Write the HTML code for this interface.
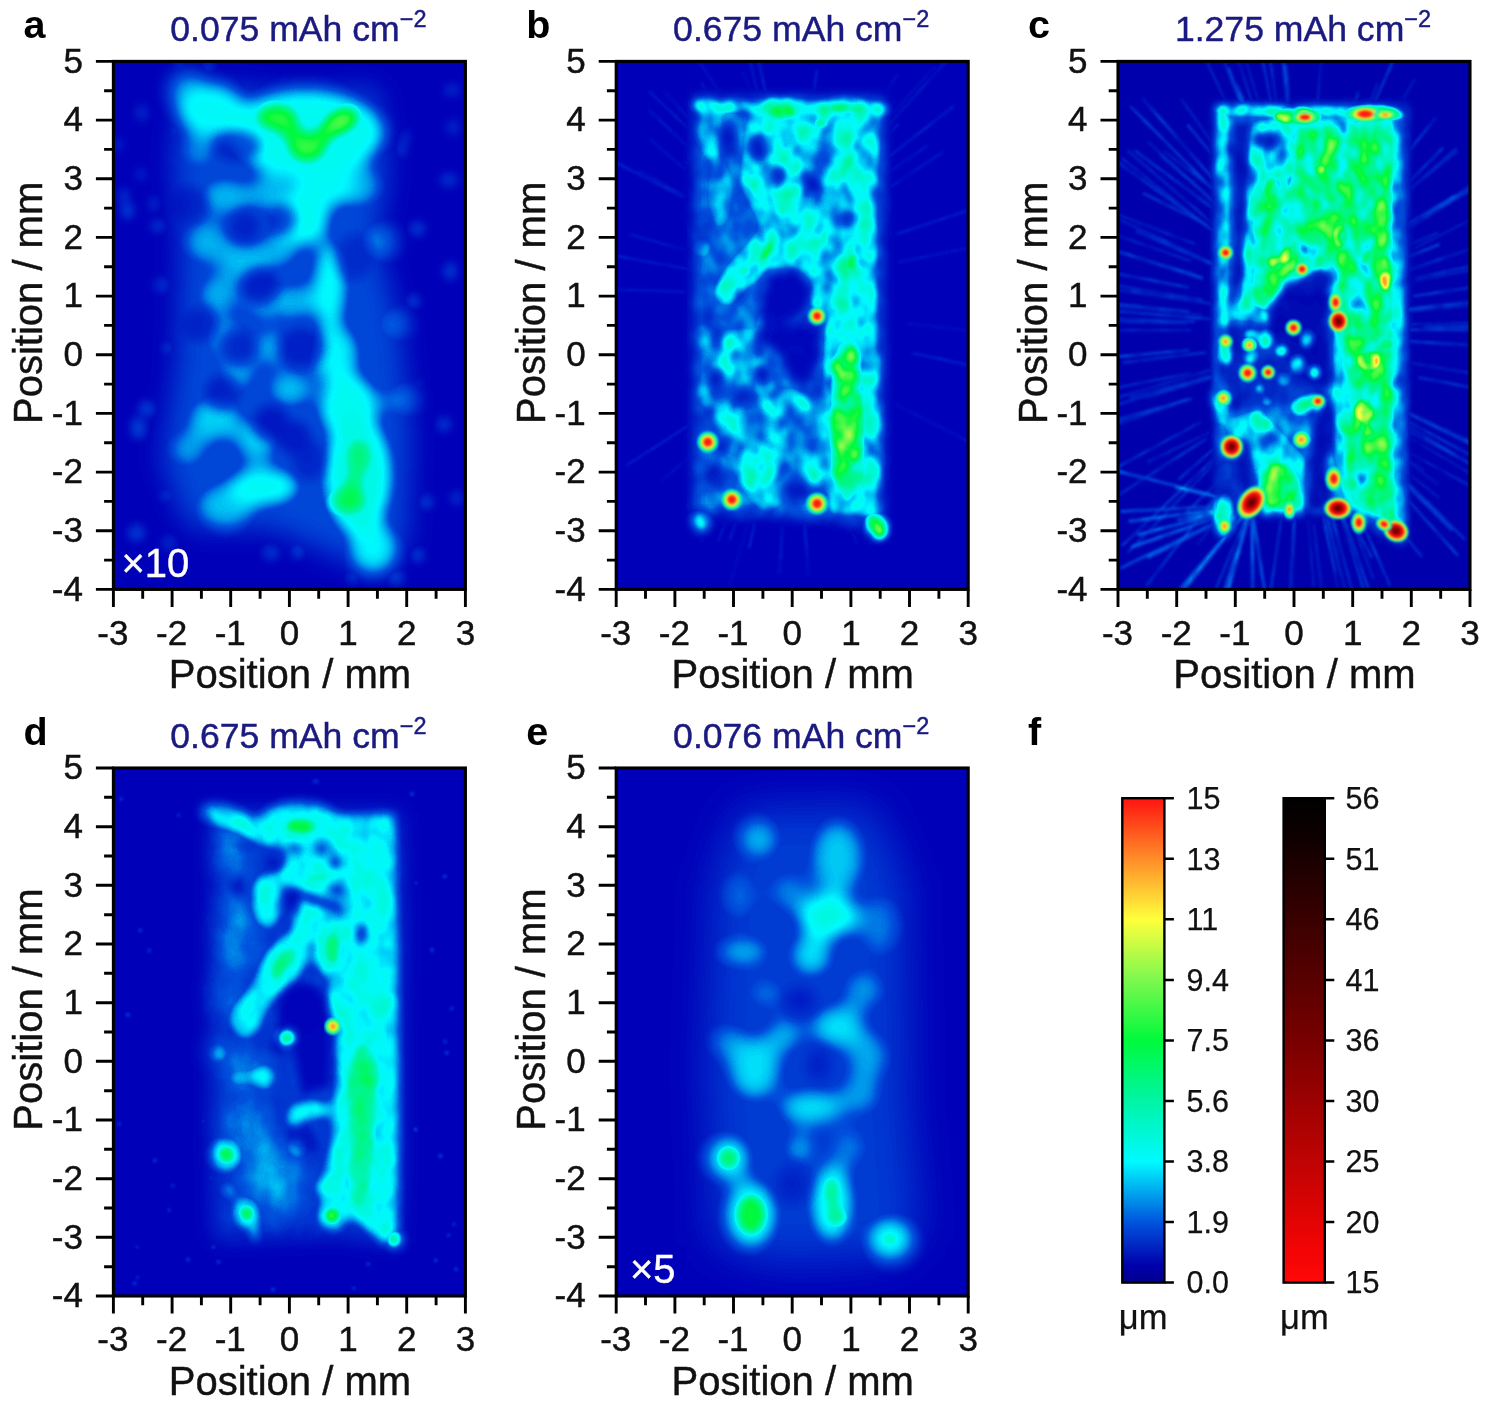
<!DOCTYPE html>
<html lang="en"><head><meta charset="utf-8"><title>Thickness maps</title>
<style>
html,body{margin:0;padding:0;background:#fff;}
svg{display:block;}
text{font-family:"Liberation Sans", sans-serif;fill:#111;}
.tk,.al,.cb{stroke:#111;stroke-width:0.45px;}
.tt{stroke:#1a1a80;stroke-width:0.45px;}
.mul{stroke:#fff;stroke-width:0.4px;}
.tk{font-size:35px;}
.al{font-size:40px;}
.tt{font-size:35.6px;fill:#1a1a80;}
.pl{font-size:39.5px;font-weight:bold;fill:#000;}
.cb{font-size:30.5px;stroke-width:0.25px;}
.mul{font-size:40px;fill:#fff;}
</style></head>
<body>
<svg width="1488" height="1407" viewBox="0 0 1488 1407">
<defs>
<filter id="cmap" x="0" y="0" width="100%" height="100%" color-interpolation-filters="sRGB" filterUnits="objectBoundingBox"><feComponentTransfer><feFuncR type="table" tableValues="0.000 0.000 0.000 0.000 0.000 0.490 1.000 1.000 1.000 0.843 0.588 0.373 0.176"/><feFuncG type="table" tableValues="0.000 0.329 0.980 0.961 0.980 0.973 1.000 0.549 0.078 0.000 0.000 0.000 0.000"/><feFuncB type="table" tableValues="0.722 0.871 1.000 0.647 0.235 0.306 0.235 0.157 0.063 0.000 0.000 0.000 0.000"/></feComponentTransfer></filter>
<filter id="cmap_b" x="0" y="0" width="100%" height="100%" color-interpolation-filters="sRGB" filterUnits="objectBoundingBox"><feTurbulence type="fractalNoise" baseFrequency="0.05 0.04" numOctaves="2" seed="21" result="n"/><feColorMatrix in="n" type="matrix" values="0.7 0 0 0 0.15000000000000002  0.7 0 0 0 0.15000000000000002  0.7 0 0 0 0.15000000000000002  0 0 0 0 1" result="g"/><feComposite in="SourceGraphic" in2="g" operator="arithmetic" k1="2" k2="0" k3="0" k4="0" result="m"/><feComponentTransfer in="m"><feFuncR type="table" tableValues="0.000 0.000 0.000 0.000 0.000 0.490 1.000 1.000 1.000 0.843 0.588 0.373 0.176"/><feFuncG type="table" tableValues="0.000 0.329 0.980 0.961 0.980 0.973 1.000 0.549 0.078 0.000 0.000 0.000 0.000"/><feFuncB type="table" tableValues="0.722 0.871 1.000 0.647 0.235 0.306 0.235 0.157 0.063 0.000 0.000 0.000 0.000"/></feComponentTransfer></filter>
<filter id="cmap_c" x="0" y="0" width="100%" height="100%" color-interpolation-filters="sRGB" filterUnits="objectBoundingBox"><feTurbulence type="fractalNoise" baseFrequency="0.055 0.04" numOctaves="2" seed="5" result="n"/><feColorMatrix in="n" type="matrix" values="0.8 0 0 0 0.09999999999999998  0.8 0 0 0 0.09999999999999998  0.8 0 0 0 0.09999999999999998  0 0 0 0 1" result="g"/><feComposite in="SourceGraphic" in2="g" operator="arithmetic" k1="2" k2="0" k3="0" k4="0" result="m"/><feComponentTransfer in="m"><feFuncR type="table" tableValues="0.000 0.000 0.000 0.000 0.000 0.490 1.000 1.000 1.000 0.843 0.588 0.373 0.176"/><feFuncG type="table" tableValues="0.000 0.329 0.980 0.961 0.980 0.973 1.000 0.549 0.078 0.000 0.000 0.000 0.000"/><feFuncB type="table" tableValues="0.682 0.871 1.000 0.647 0.235 0.306 0.235 0.157 0.063 0.000 0.000 0.000 0.000"/></feComponentTransfer></filter>
<filter id="cmap_d" x="0" y="0" width="100%" height="100%" color-interpolation-filters="sRGB" filterUnits="objectBoundingBox"><feTurbulence type="fractalNoise" baseFrequency="0.05 0.04" numOctaves="2" seed="9" result="n"/><feColorMatrix in="n" type="matrix" values="0.25 0 0 0 0.375  0.25 0 0 0 0.375  0.25 0 0 0 0.375  0 0 0 0 1" result="g"/><feComposite in="SourceGraphic" in2="g" operator="arithmetic" k1="2" k2="0" k3="0" k4="0" result="m"/><feComponentTransfer in="m"><feFuncR type="table" tableValues="0.000 0.000 0.000 0.000 0.000 0.490 1.000 1.000 1.000 0.843 0.588 0.373 0.176"/><feFuncG type="table" tableValues="0.000 0.329 0.980 0.961 0.980 0.973 1.000 0.549 0.078 0.000 0.000 0.000 0.000"/><feFuncB type="table" tableValues="0.722 0.871 1.000 0.647 0.235 0.306 0.235 0.157 0.063 0.000 0.000 0.000 0.000"/></feComponentTransfer></filter>
<filter id="b1" x="0" y="0" width="100%" height="100%" color-interpolation-filters="sRGB"><feGaussianBlur stdDeviation="1"/></filter>
<filter id="b1_5" x="0" y="0" width="100%" height="100%" color-interpolation-filters="sRGB"><feGaussianBlur stdDeviation="1.5"/></filter>
<filter id="b3" x="0" y="0" width="100%" height="100%" color-interpolation-filters="sRGB"><feGaussianBlur stdDeviation="3"/></filter>
<filter id="b4" x="0" y="0" width="100%" height="100%" color-interpolation-filters="sRGB"><feGaussianBlur stdDeviation="4"/></filter>
<filter id="b5" x="0" y="0" width="100%" height="100%" color-interpolation-filters="sRGB"><feGaussianBlur stdDeviation="5"/></filter>
<filter id="b6" x="0" y="0" width="100%" height="100%" color-interpolation-filters="sRGB"><feGaussianBlur stdDeviation="6"/></filter>
<filter id="b8" x="0" y="0" width="100%" height="100%" color-interpolation-filters="sRGB"><feGaussianBlur stdDeviation="8"/></filter>
<filter id="b9" x="0" y="0" width="100%" height="100%" color-interpolation-filters="sRGB"><feGaussianBlur stdDeviation="9"/></filter>
<filter id="b10" x="0" y="0" width="100%" height="100%" color-interpolation-filters="sRGB"><feGaussianBlur stdDeviation="10"/></filter>
<filter id="b11" x="0" y="0" width="100%" height="100%" color-interpolation-filters="sRGB"><feGaussianBlur stdDeviation="11"/></filter>
<filter id="b14" x="0" y="0" width="100%" height="100%" color-interpolation-filters="sRGB"><feGaussianBlur stdDeviation="14"/></filter>
<filter id="b22" x="0" y="0" width="100%" height="100%" color-interpolation-filters="sRGB"><feGaussianBlur stdDeviation="22"/></filter>
<linearGradient id="cb1" x1="0" y1="1" x2="0" y2="0"><stop offset="0" stop-color="rgb(0,0,140)"/><stop offset="0.035" stop-color="rgb(0,0,172)"/><stop offset="0.1250" stop-color="rgb(0,84,222)"/><stop offset="0.2500" stop-color="rgb(0,250,255)"/><stop offset="0.3750" stop-color="rgb(0,245,165)"/><stop offset="0.5000" stop-color="rgb(0,250,60)"/><stop offset="0.6250" stop-color="rgb(125,248,78)"/><stop offset="0.7500" stop-color="rgb(255,255,60)"/><stop offset="0.8750" stop-color="rgb(255,140,40)"/><stop offset="1.0000" stop-color="rgb(255,20,16)"/></linearGradient>
<linearGradient id="cb2" x1="0" y1="1" x2="0" y2="0"><stop offset="0" stop-color="rgb(255,8,8)"/><stop offset="0.08" stop-color="rgb(240,4,4)"/><stop offset="0.5" stop-color="rgb(120,0,0)"/><stop offset="0.93" stop-color="rgb(12,0,0)"/><stop offset="1" stop-color="rgb(0,0,0)"/></linearGradient>
<radialGradient id="hot"><stop offset="0" stop-color="rgb(255,20,16)"/><stop offset="0.26" stop-color="rgb(255,30,16)"/><stop offset="0.42" stop-color="rgb(255,150,40)"/><stop offset="0.54" stop-color="rgb(250,250,60)"/><stop offset="0.68" stop-color="rgb(80,250,70)"/><stop offset="0.82" stop-color="rgb(0,248,190)"/><stop offset="0.92" stop-color="rgb(0,245,255)" stop-opacity="0.8"/><stop offset="1" stop-color="rgb(0,200,255)" stop-opacity="0"/></radialGradient>
<radialGradient id="hot2"><stop offset="0" stop-color="rgb(70,0,0)"/><stop offset="0.25" stop-color="rgb(150,0,0)"/><stop offset="0.45" stop-color="rgb(235,8,8)"/><stop offset="0.58" stop-color="rgb(255,40,20)"/><stop offset="0.68" stop-color="rgb(255,190,50)"/><stop offset="0.76" stop-color="rgb(230,250,60)"/><stop offset="0.85" stop-color="rgb(60,250,80)"/><stop offset="0.93" stop-color="rgb(0,245,230)" stop-opacity="0.85"/><stop offset="1" stop-color="rgb(0,200,255)" stop-opacity="0"/></radialGradient>
<radialGradient id="hot0"><stop offset="0" stop-color="rgb(255,120,30)"/><stop offset="0.2" stop-color="rgb(255,170,40)"/><stop offset="0.42" stop-color="rgb(245,250,60)"/><stop offset="0.64" stop-color="rgb(80,250,70)"/><stop offset="0.82" stop-color="rgb(0,248,200)"/><stop offset="0.92" stop-color="rgb(0,245,255)" stop-opacity="0.8"/><stop offset="1" stop-color="rgb(0,200,255)" stop-opacity="0"/></radialGradient>
<filter id="soft" x="0" y="0" width="100%" height="100%" filterUnits="userSpaceOnUse" color-interpolation-filters="sRGB"><feGaussianBlur stdDeviation="0.6"/></filter>
</defs>
<g filter="url(#soft)">
<rect width="1488" height="1407" fill="#fff"/>
<!-- panel a -->
<svg x="113.4" y="61.4" width="352" height="528" viewBox="0 0 352 528" overflow="hidden">
<g filter="url(#cmap)">
<rect x="-60" y="-60" width="472" height="648" fill="rgb(0,0,0)"/>
<g filter="url(#b14)" style="mix-blend-mode:lighten">
<rect x="-60" y="-60" width="472" height="648" fill="#000"/>
<polygon points="71.2,22.2 195.5,33.5 263.4,26 274.7,112.6 263.4,180.5 286,263.4 297.3,376.4 293.5,481.9 263.4,512 210.6,489.4 157.9,466.8 75,466.8 48.6,399 63.7,301 67.4,188 59.9,93.8" fill="rgb(18,18,18)" style="mix-blend-mode:lighten"/>
</g>
<g filter="url(#b5)" style="mix-blend-mode:lighten">
<rect x="-60" y="-60" width="472" height="648" fill="#000"/>
<ellipse cx="115.4" cy="82.9" rx="7.6" ry="5.3" fill="rgb(13,13,13)" style="mix-blend-mode:lighten"/>
<ellipse cx="129.7" cy="34.7" rx="7" ry="5.1" fill="rgb(13,13,13)" style="mix-blend-mode:lighten"/>
<ellipse cx="28.5" cy="51.7" rx="6.7" ry="8.3" fill="rgb(10,10,10)" style="mix-blend-mode:lighten"/>
<ellipse cx="80.9" cy="330.2" rx="8.8" ry="7.3" fill="rgb(12,12,12)" style="mix-blend-mode:lighten"/>
<ellipse cx="338.5" cy="28.8" rx="8.4" ry="6.2" fill="rgb(10,10,10)" style="mix-blend-mode:lighten"/>
<ellipse cx="44.9" cy="164.7" rx="8.3" ry="5.7" fill="rgb(14,14,14)" style="mix-blend-mode:lighten"/>
<ellipse cx="223.1" cy="197.9" rx="7.2" ry="5.3" fill="rgb(10,10,10)" style="mix-blend-mode:lighten"/>
<ellipse cx="75" cy="357.7" rx="6.7" ry="6.3" fill="rgb(14,14,14)" style="mix-blend-mode:lighten"/>
<ellipse cx="159.6" cy="160.2" rx="8.2" ry="7.8" fill="rgb(11,11,11)" style="mix-blend-mode:lighten"/>
<ellipse cx="201.1" cy="277.2" rx="8.5" ry="7.9" fill="rgb(11,11,11)" style="mix-blend-mode:lighten"/>
<ellipse cx="339.8" cy="65.9" rx="6.7" ry="8" fill="rgb(10,10,10)" style="mix-blend-mode:lighten"/>
<ellipse cx="171.8" cy="24.9" rx="7.7" ry="8.1" fill="rgb(14,14,14)" style="mix-blend-mode:lighten"/>
<ellipse cx="304" cy="167.4" rx="7.8" ry="7.4" fill="rgb(14,14,14)" style="mix-blend-mode:lighten"/>
<ellipse cx="160.6" cy="440.5" rx="8.8" ry="6.9" fill="rgb(14,14,14)" style="mix-blend-mode:lighten"/>
<ellipse cx="25.3" cy="368.7" rx="7.6" ry="9" fill="rgb(16,16,16)" style="mix-blend-mode:lighten"/>
<ellipse cx="101.9" cy="204.8" rx="7.7" ry="5.1" fill="rgb(13,13,13)" style="mix-blend-mode:lighten"/>
<ellipse cx="62.1" cy="65.4" rx="5.2" ry="8.1" fill="rgb(10,10,10)" style="mix-blend-mode:lighten"/>
<ellipse cx="89.3" cy="207.5" rx="8.5" ry="5.3" fill="rgb(13,13,13)" style="mix-blend-mode:lighten"/>
<ellipse cx="192.5" cy="463.1" rx="8.3" ry="8.5" fill="rgb(11,11,11)" style="mix-blend-mode:lighten"/>
<ellipse cx="146.6" cy="190.8" rx="8.5" ry="8.8" fill="rgb(10,10,10)" style="mix-blend-mode:lighten"/>
<ellipse cx="64.9" cy="125" rx="5.9" ry="6.9" fill="rgb(14,14,14)" style="mix-blend-mode:lighten"/>
<ellipse cx="94.5" cy="6.7" rx="6.7" ry="6.5" fill="rgb(14,14,14)" style="mix-blend-mode:lighten"/>
<ellipse cx="330.6" cy="363" rx="7.1" ry="7.5" fill="rgb(14,14,14)" style="mix-blend-mode:lighten"/>
<ellipse cx="23.1" cy="471.5" rx="8.1" ry="8.5" fill="rgb(15,15,15)" style="mix-blend-mode:lighten"/>
<ellipse cx="138.8" cy="211.7" rx="5.4" ry="7.5" fill="rgb(10,10,10)" style="mix-blend-mode:lighten"/>
<ellipse cx="27.6" cy="112.9" rx="5.6" ry="6.4" fill="rgb(9,9,9)" style="mix-blend-mode:lighten"/>
<ellipse cx="4.7" cy="83.1" rx="5.4" ry="6.5" fill="rgb(9,9,9)" style="mix-blend-mode:lighten"/>
<ellipse cx="303.6" cy="323.3" rx="5.6" ry="6" fill="rgb(12,12,12)" style="mix-blend-mode:lighten"/>
<ellipse cx="129.1" cy="68.4" rx="8.4" ry="9" fill="rgb(13,13,13)" style="mix-blend-mode:lighten"/>
<ellipse cx="170.1" cy="49.2" rx="5.4" ry="6.4" fill="rgb(11,11,11)" style="mix-blend-mode:lighten"/>
<ellipse cx="288.1" cy="88.4" rx="5.1" ry="8.8" fill="rgb(13,13,13)" style="mix-blend-mode:lighten"/>
<ellipse cx="54.7" cy="286.5" rx="5.1" ry="7.1" fill="rgb(17,17,17)" style="mix-blend-mode:lighten"/>
<ellipse cx="299.9" cy="365.9" rx="6" ry="6.5" fill="rgb(10,10,10)" style="mix-blend-mode:lighten"/>
<ellipse cx="268.6" cy="281" rx="8.1" ry="6.3" fill="rgb(11,11,11)" style="mix-blend-mode:lighten"/>
<ellipse cx="282.1" cy="515.8" rx="8.4" ry="8.2" fill="rgb(16,16,16)" style="mix-blend-mode:lighten"/>
<ellipse cx="257.6" cy="122.3" rx="7.1" ry="6.4" fill="rgb(9,9,9)" style="mix-blend-mode:lighten"/>
<ellipse cx="14.2" cy="149.6" rx="6" ry="7.8" fill="rgb(17,17,17)" style="mix-blend-mode:lighten"/>
<ellipse cx="157.6" cy="490.9" rx="9" ry="8.8" fill="rgb(12,12,12)" style="mix-blend-mode:lighten"/>
<ellipse cx="80" cy="122.3" rx="5.8" ry="5.8" fill="rgb(14,14,14)" style="mix-blend-mode:lighten"/>
<ellipse cx="312.5" cy="440.8" rx="6.9" ry="7.6" fill="rgb(15,15,15)" style="mix-blend-mode:lighten"/>
<ellipse cx="33.6" cy="347.4" rx="8.6" ry="8.1" fill="rgb(15,15,15)" style="mix-blend-mode:lighten"/>
<ellipse cx="168.1" cy="97.3" rx="8.2" ry="6.3" fill="rgb(15,15,15)" style="mix-blend-mode:lighten"/>
<ellipse cx="336.9" cy="210" rx="6.6" ry="8.8" fill="rgb(15,15,15)" style="mix-blend-mode:lighten"/>
<ellipse cx="62.7" cy="70.5" rx="5.6" ry="8.6" fill="rgb(15,15,15)" style="mix-blend-mode:lighten"/>
<ellipse cx="54.6" cy="433.6" rx="8.9" ry="7.6" fill="rgb(12,12,12)" style="mix-blend-mode:lighten"/>
<ellipse cx="192.2" cy="72.6" rx="5.1" ry="8.9" fill="rgb(14,14,14)" style="mix-blend-mode:lighten"/>
<ellipse cx="184.7" cy="489.2" rx="6.7" ry="8.5" fill="rgb(16,16,16)" style="mix-blend-mode:lighten"/>
<ellipse cx="76.8" cy="135.3" rx="6.2" ry="6" fill="rgb(14,14,14)" style="mix-blend-mode:lighten"/>
<ellipse cx="93.3" cy="222.1" rx="5.5" ry="8.6" fill="rgb(12,12,12)" style="mix-blend-mode:lighten"/>
<ellipse cx="161.3" cy="307.4" rx="8.6" ry="6.7" fill="rgb(16,16,16)" style="mix-blend-mode:lighten"/>
<ellipse cx="176.2" cy="280.6" rx="7.1" ry="5.1" fill="rgb(13,13,13)" style="mix-blend-mode:lighten"/>
<ellipse cx="67.2" cy="6.6" rx="8.2" ry="5.7" fill="rgb(13,13,13)" style="mix-blend-mode:lighten"/>
<ellipse cx="252.6" cy="293.4" rx="6.3" ry="7.1" fill="rgb(13,13,13)" style="mix-blend-mode:lighten"/>
<ellipse cx="272.8" cy="59.7" rx="7.2" ry="6" fill="rgb(11,11,11)" style="mix-blend-mode:lighten"/>
<ellipse cx="268.7" cy="268.1" rx="7.2" ry="8" fill="rgb(16,16,16)" style="mix-blend-mode:lighten"/>
<ellipse cx="156.2" cy="322.5" rx="7" ry="7" fill="rgb(15,15,15)" style="mix-blend-mode:lighten"/>
<ellipse cx="159.3" cy="281.4" rx="6.9" ry="8.8" fill="rgb(15,15,15)" style="mix-blend-mode:lighten"/>
<ellipse cx="304.4" cy="493.6" rx="6" ry="7.2" fill="rgb(17,17,17)" style="mix-blend-mode:lighten"/>
<ellipse cx="291.9" cy="75.8" rx="5.5" ry="6.8" fill="rgb(10,10,10)" style="mix-blend-mode:lighten"/>
<ellipse cx="86.9" cy="42.5" rx="7.7" ry="8.1" fill="rgb(16,16,16)" style="mix-blend-mode:lighten"/>
<ellipse cx="57.4" cy="376.3" rx="7.6" ry="5.6" fill="rgb(16,16,16)" style="mix-blend-mode:lighten"/>
<ellipse cx="335.5" cy="118.6" rx="8.8" ry="6.6" fill="rgb(13,13,13)" style="mix-blend-mode:lighten"/>
<ellipse cx="343.1" cy="436.6" rx="5.6" ry="6.7" fill="rgb(13,13,13)" style="mix-blend-mode:lighten"/>
<ellipse cx="120.6" cy="106.2" rx="6.3" ry="7.9" fill="rgb(9,9,9)" style="mix-blend-mode:lighten"/>
<ellipse cx="194.1" cy="233.2" rx="5.1" ry="6.3" fill="rgb(14,14,14)" style="mix-blend-mode:lighten"/>
<ellipse cx="179.8" cy="38" rx="8.9" ry="8.2" fill="rgb(17,17,17)" style="mix-blend-mode:lighten"/>
<ellipse cx="40.4" cy="142.4" rx="5.2" ry="8.1" fill="rgb(11,11,11)" style="mix-blend-mode:lighten"/>
<ellipse cx="48.9" cy="223.7" rx="8.6" ry="8.3" fill="rgb(11,11,11)" style="mix-blend-mode:lighten"/>
<ellipse cx="55.7" cy="481.7" rx="7.3" ry="7.8" fill="rgb(10,10,10)" style="mix-blend-mode:lighten"/>
<ellipse cx="24.3" cy="361.8" rx="6.7" ry="5.3" fill="rgb(17,17,17)" style="mix-blend-mode:lighten"/>
<ellipse cx="221.6" cy="420.6" rx="5.3" ry="8.4" fill="rgb(10,10,10)" style="mix-blend-mode:lighten"/>
<ellipse cx="299.7" cy="240.1" rx="6.4" ry="7.2" fill="rgb(16,16,16)" style="mix-blend-mode:lighten"/>
<ellipse cx="96.2" cy="71.7" rx="7.1" ry="6" fill="rgb(10,10,10)" style="mix-blend-mode:lighten"/>
<ellipse cx="59.8" cy="30.7" rx="5.8" ry="6.2" fill="rgb(11,11,11)" style="mix-blend-mode:lighten"/>
<ellipse cx="264.3" cy="155.1" rx="7" ry="5.7" fill="rgb(12,12,12)" style="mix-blend-mode:lighten"/>
<ellipse cx="10.8" cy="134.6" rx="5.1" ry="7.9" fill="rgb(13,13,13)" style="mix-blend-mode:lighten"/>
<ellipse cx="69.4" cy="251" rx="8.7" ry="5.4" fill="rgb(16,16,16)" style="mix-blend-mode:lighten"/>
<ellipse cx="152.4" cy="261.5" rx="8.3" ry="6.6" fill="rgb(13,13,13)" style="mix-blend-mode:lighten"/>
<ellipse cx="239.8" cy="514.5" rx="6.4" ry="8.3" fill="rgb(15,15,15)" style="mix-blend-mode:lighten"/>
<ellipse cx="222.1" cy="214.6" rx="6.4" ry="5.2" fill="rgb(10,10,10)" style="mix-blend-mode:lighten"/>
</g>
<g filter="url(#b9)" style="mix-blend-mode:lighten">
<rect x="-60" y="-60" width="472" height="648" fill="#000"/>
<ellipse cx="191.8" cy="71.2" rx="80.4" ry="44.6" fill="rgb(46,46,46)" style="mix-blend-mode:lighten"/>
<ellipse cx="97.6" cy="48.6" rx="35.4" ry="27.8" fill="rgb(44,44,44)" style="mix-blend-mode:lighten"/>
<ellipse cx="75" cy="29.7" rx="20.3" ry="20.3" fill="rgb(29,29,29)" style="mix-blend-mode:lighten"/>
<ellipse cx="86.3" cy="90" rx="20.3" ry="20.3" fill="rgb(28,28,28)" style="mix-blend-mode:lighten"/>
<ellipse cx="191.8" cy="157.9" rx="26" ry="27.8" fill="rgb(46,46,46)" style="mix-blend-mode:lighten"/>
<ellipse cx="210.6" cy="123.9" rx="31.6" ry="24.1" fill="rgb(44,44,44)" style="mix-blend-mode:lighten"/>
<ellipse cx="216.3" cy="225.7" rx="18.6" ry="46.4" fill="rgb(44,44,44)" style="mix-blend-mode:lighten"/>
<ellipse cx="221.9" cy="293.5" rx="24.8" ry="31.6" fill="rgb(42,42,42)" style="mix-blend-mode:lighten"/>
<ellipse cx="235.1" cy="346.2" rx="30.9" ry="35.4" fill="rgb(46,46,46)" style="mix-blend-mode:lighten"/>
<ellipse cx="244.5" cy="414.1" rx="35.9" ry="62.3" fill="rgb(48,48,48)" style="mix-blend-mode:lighten"/>
<ellipse cx="259.6" cy="485.7" rx="26" ry="27.8" fill="rgb(42,42,42)" style="mix-blend-mode:lighten"/>
<ellipse cx="150.3" cy="425.4" rx="37.9" ry="21.3" fill="rgb(45,45,45)" style="mix-blend-mode:lighten"/>
<ellipse cx="112.6" cy="444.2" rx="31.6" ry="24.1" fill="rgb(35,35,35)" style="mix-blend-mode:lighten"/>
<ellipse cx="101.3" cy="357.6" rx="27.8" ry="24.1" fill="rgb(37,37,37)" style="mix-blend-mode:lighten"/>
<ellipse cx="142.8" cy="380.2" rx="22.2" ry="22.2" fill="rgb(37,37,37)" style="mix-blend-mode:lighten"/>
<ellipse cx="75" cy="387.7" rx="20.3" ry="20.3" fill="rgb(31,31,31)" style="mix-blend-mode:lighten"/>
<ellipse cx="176.7" cy="327.4" rx="24.1" ry="20.3" fill="rgb(35,35,35)" style="mix-blend-mode:lighten"/>
<ellipse cx="123.9" cy="312.3" rx="20.3" ry="20.3" fill="rgb(32,32,32)" style="mix-blend-mode:lighten"/>
<ellipse cx="112.6" cy="135.2" rx="27.8" ry="20.3" fill="rgb(34,34,34)" style="mix-blend-mode:lighten"/>
<ellipse cx="157.9" cy="131.5" rx="22.2" ry="22.2" fill="rgb(34,34,34)" style="mix-blend-mode:lighten"/>
<ellipse cx="93.8" cy="180.5" rx="24.1" ry="24.1" fill="rgb(33,33,33)" style="mix-blend-mode:lighten"/>
<ellipse cx="131.5" cy="199.3" rx="27.8" ry="20.3" fill="rgb(35,35,35)" style="mix-blend-mode:lighten"/>
<ellipse cx="165.4" cy="188" rx="20.3" ry="20.3" fill="rgb(34,34,34)" style="mix-blend-mode:lighten"/>
<ellipse cx="105.1" cy="233.2" rx="22.2" ry="22.2" fill="rgb(33,33,33)" style="mix-blend-mode:lighten"/>
<ellipse cx="150.3" cy="240.7" rx="20.3" ry="20.3" fill="rgb(32,32,32)" style="mix-blend-mode:lighten"/>
<ellipse cx="112.6" cy="278.4" rx="22.2" ry="22.2" fill="rgb(33,33,33)" style="mix-blend-mode:lighten"/>
<ellipse cx="157.9" cy="286" rx="20.3" ry="20.3" fill="rgb(32,32,32)" style="mix-blend-mode:lighten"/>
<ellipse cx="180.5" cy="240.7" rx="20.3" ry="20.3" fill="rgb(34,34,34)" style="mix-blend-mode:lighten"/>
<ellipse cx="263.4" cy="180.5" rx="20.3" ry="20.3" fill="rgb(26,26,26)" style="mix-blend-mode:lighten"/>
<ellipse cx="278.4" cy="263.4" rx="18.4" ry="18.4" fill="rgb(24,24,24)" style="mix-blend-mode:lighten"/>
<ellipse cx="286" cy="338.7" rx="18.4" ry="18.4" fill="rgb(26,26,26)" style="mix-blend-mode:lighten"/>
<ellipse cx="244.5" cy="123.9" rx="24.1" ry="24.1" fill="rgb(33,33,33)" style="mix-blend-mode:lighten"/>
</g>
<g filter="url(#b6)" style="mix-blend-mode:multiply">
<rect x="-60" y="-60" width="472" height="648" fill="#fff"/>
<ellipse cx="146.5" cy="225.7" rx="18.4" ry="18.4" fill="rgb(76,76,76)" style="mix-blend-mode:darken"/>
<ellipse cx="123.9" cy="286" rx="18.4" ry="18.4" fill="rgb(89,89,89)" style="mix-blend-mode:darken"/>
<ellipse cx="157.9" cy="361.3" rx="18" ry="18" fill="rgb(76,76,76)" style="mix-blend-mode:darken"/>
<ellipse cx="108.9" cy="331.2" rx="17.3" ry="17.3" fill="rgb(102,102,102)" style="mix-blend-mode:darken"/>
<ellipse cx="180.5" cy="376.4" rx="17.3" ry="17.3" fill="rgb(89,89,89)" style="mix-blend-mode:darken"/>
<ellipse cx="188" cy="286" rx="23.3" ry="19.6" fill="rgb(102,102,102)" style="mix-blend-mode:darken"/>
<ellipse cx="131.5" cy="165.4" rx="15.8" ry="15.8" fill="rgb(115,115,115)" style="mix-blend-mode:darken"/>
<ellipse cx="169.2" cy="157.9" rx="14.7" ry="14.7" fill="rgb(128,128,128)" style="mix-blend-mode:darken"/>
<ellipse cx="123.9" cy="84.4" rx="24.1" ry="15.8" fill="rgb(115,115,115)" style="mix-blend-mode:darken"/>
<ellipse cx="86.3" cy="263.4" rx="17.3" ry="17.3" fill="rgb(128,128,128)" style="mix-blend-mode:darken"/>
<ellipse cx="195.5" cy="399" rx="16.5" ry="20.3" fill="rgb(128,128,128)" style="mix-blend-mode:darken"/>
<ellipse cx="75" cy="142.8" rx="18.4" ry="18.4" fill="rgb(128,128,128)" style="mix-blend-mode:darken"/>
<ellipse cx="240.7" cy="195.5" rx="18.4" ry="24.1" fill="rgb(153,153,153)" style="mix-blend-mode:darken"/>
</g>
<g filter="url(#b8)" style="mix-blend-mode:lighten">
<rect x="-60" y="-60" width="472" height="648" fill="#000"/>
<ellipse cx="163.5" cy="56.1" rx="24.9" ry="16.6" fill="rgb(93,93,93)" style="mix-blend-mode:lighten"/>
<ellipse cx="227.6" cy="59.9" rx="22.6" ry="15.1" fill="rgb(104,104,104)" style="mix-blend-mode:lighten" transform="rotate(-25 227.6 59.9)"/>
<ellipse cx="193.6" cy="87" rx="22.6" ry="17.3" fill="rgb(95,95,95)" style="mix-blend-mode:lighten"/>
<line x1="225.7" y1="59.9" x2="195.5" y2="87" stroke="rgb(88,88,88)" style="mix-blend-mode:lighten" stroke-width="22" stroke-linecap="round"/>
<line x1="163.5" y1="56.1" x2="193.6" y2="87" stroke="rgb(86,86,86)" style="mix-blend-mode:lighten" stroke-width="24" stroke-linecap="round"/>
<ellipse cx="245.3" cy="395.2" rx="18.8" ry="24.9" fill="rgb(73,73,73)" style="mix-blend-mode:lighten"/>
<ellipse cx="236.2" cy="438.6" rx="21.8" ry="19.6" fill="rgb(82,82,82)" style="mix-blend-mode:lighten"/>
<line x1="245.3" y1="395.2" x2="236.2" y2="438.6" stroke="rgb(70,70,70)" style="mix-blend-mode:lighten" stroke-width="22" stroke-linecap="round"/>
</g>
</g>
</svg>
<g>
<rect x="113.4" y="61.4" width="352" height="528" fill="none" stroke="#000" stroke-width="3.1"/>
<path d="M95.9 61.4h17.5M104.1 90.7h9.3M95.9 120.1h17.5M104.1 149.4h9.3M95.9 178.7h17.5M104.1 208.1h9.3M95.9 237.4h17.5M104.1 266.7h9.3M95.9 296.1h17.5M104.1 325.4h9.3M95.9 354.7h17.5M104.1 384.1h9.3M95.9 413.4h17.5M104.1 442.7h9.3M95.9 472.1h17.5M104.1 501.4h9.3M95.9 530.7h17.5M104.1 560.1h9.3M95.9 589.4h17.5M113.4 589.4v17.5M142.7 589.4v9.3M172.1 589.4v17.5M201.4 589.4v9.3M230.7 589.4v17.5M260.1 589.4v9.3M289.4 589.4v17.5M318.7 589.4v9.3M348.1 589.4v17.5M377.4 589.4v9.3M406.7 589.4v17.5M436.1 589.4v9.3M465.4 589.4v17.5" stroke="#000" stroke-width="2.9" fill="none"/>
<text x="82.9" y="72.6" text-anchor="end" class="tk">5</text>
<text x="82.9" y="131.3" text-anchor="end" class="tk">4</text>
<text x="82.9" y="189.9" text-anchor="end" class="tk">3</text>
<text x="82.9" y="248.6" text-anchor="end" class="tk">2</text>
<text x="82.9" y="307.3" text-anchor="end" class="tk">1</text>
<text x="82.9" y="365.9" text-anchor="end" class="tk">0</text>
<text x="82.9" y="424.6" text-anchor="end" class="tk">-1</text>
<text x="82.9" y="483.3" text-anchor="end" class="tk">-2</text>
<text x="82.9" y="541.9" text-anchor="end" class="tk">-3</text>
<text x="82.9" y="600.6" text-anchor="end" class="tk">-4</text>
<text x="112.9" y="644.7" text-anchor="middle" class="tk">-3</text>
<text x="171.6" y="644.7" text-anchor="middle" class="tk">-2</text>
<text x="230.2" y="644.7" text-anchor="middle" class="tk">-1</text>
<text x="289.4" y="644.7" text-anchor="middle" class="tk">0</text>
<text x="348.1" y="644.7" text-anchor="middle" class="tk">1</text>
<text x="406.7" y="644.7" text-anchor="middle" class="tk">2</text>
<text x="465.4" y="644.7" text-anchor="middle" class="tk">3</text>
<text x="289.9" y="687.9" text-anchor="middle" class="al">Position / mm</text>
<text transform="translate(42.4 302.9) rotate(-90)" text-anchor="middle" class="al">Position / mm</text>
<text x="298.4" y="41.4" text-anchor="middle" class="tt">0.075 mAh cm<tspan dy="-14" font-size="23.5">−2</tspan></text>
<text x="23.4" y="38.4" class="pl">a</text>
</g>
<!-- panel b -->
<svg x="616.2" y="61.4" width="352" height="528" viewBox="0 0 352 528" overflow="hidden">
<g filter="url(#cmap_b)">
<rect x="-60" y="-60" width="472" height="648" fill="rgb(0,0,0)"/>
<g filter="url(#b1_5)" style="mix-blend-mode:lighten">
<rect x="-60" y="-60" width="472" height="648" fill="#000"/>
<line x1="184.4" y1="420.7" x2="190.4" y2="486.4" stroke="rgb(8,8,8)" style="mix-blend-mode:lighten" stroke-width="2" stroke-linecap="round"/>
<line x1="108.6" y1="129.3" x2="69.5" y2="100.2" stroke="rgb(9,9,9)" style="mix-blend-mode:lighten" stroke-width="2" stroke-linecap="round"/>
<line x1="169.8" y1="402.4" x2="163.3" y2="511.9" stroke="rgb(7,7,7)" style="mix-blend-mode:lighten" stroke-width="2" stroke-linecap="round"/>
<line x1="233" y1="85.7" x2="281.3" y2="13.2" stroke="rgb(6,6,6)" style="mix-blend-mode:lighten" stroke-width="2" stroke-linecap="round"/>
<line x1="92.9" y1="87.1" x2="32.8" y2="29.7" stroke="rgb(9,9,9)" style="mix-blend-mode:lighten" stroke-width="2" stroke-linecap="round"/>
<line x1="130.6" y1="103.1" x2="85.1" y2="21.2" stroke="rgb(8,8,8)" style="mix-blend-mode:lighten" stroke-width="2" stroke-linecap="round"/>
<line x1="146" y1="382.6" x2="113.9" y2="478.1" stroke="rgb(8,8,8)" style="mix-blend-mode:lighten" stroke-width="2" stroke-linecap="round"/>
<line x1="151.3" y1="39.7" x2="131.6" y2="-48.5" stroke="rgb(10,10,10)" style="mix-blend-mode:lighten" stroke-width="2" stroke-linecap="round"/>
<line x1="78.8" y1="360" x2="11" y2="403.6" stroke="rgb(10,10,10)" style="mix-blend-mode:lighten" stroke-width="2" stroke-linecap="round"/>
<line x1="245.8" y1="131.1" x2="291" y2="97" stroke="rgb(6,6,6)" style="mix-blend-mode:lighten" stroke-width="2" stroke-linecap="round"/>
<line x1="282.5" y1="200.7" x2="372.6" y2="182.6" stroke="rgb(7,7,7)" style="mix-blend-mode:lighten" stroke-width="2" stroke-linecap="round"/>
<line x1="68.6" y1="230.7" x2="-8.2" y2="227.8" stroke="rgb(8,8,8)" style="mix-blend-mode:lighten" stroke-width="2" stroke-linecap="round"/>
<line x1="66.5" y1="135.5" x2="-19.5" y2="91.1" stroke="rgb(10,10,10)" style="mix-blend-mode:lighten" stroke-width="2" stroke-linecap="round"/>
<line x1="256.3" y1="74.2" x2="318.2" y2="6" stroke="rgb(6,6,6)" style="mix-blend-mode:lighten" stroke-width="2" stroke-linecap="round"/>
<line x1="258.4" y1="79" x2="330.3" y2="-0.4" stroke="rgb(8,8,8)" style="mix-blend-mode:lighten" stroke-width="2" stroke-linecap="round"/>
<line x1="153.1" y1="80.1" x2="130.2" y2="-15.6" stroke="rgb(8,8,8)" style="mix-blend-mode:lighten" stroke-width="2" stroke-linecap="round"/>
<line x1="155" y1="388.7" x2="133" y2="486.1" stroke="rgb(10,10,10)" style="mix-blend-mode:lighten" stroke-width="2" stroke-linecap="round"/>
<line x1="280.1" y1="343.2" x2="351.4" y2="379.4" stroke="rgb(6,6,6)" style="mix-blend-mode:lighten" stroke-width="2" stroke-linecap="round"/>
<line x1="142.7" y1="427.3" x2="113.1" y2="524.6" stroke="rgb(5,5,5)" style="mix-blend-mode:lighten" stroke-width="2" stroke-linecap="round"/>
<line x1="104.6" y1="138" x2="34.2" y2="78.4" stroke="rgb(7,7,7)" style="mix-blend-mode:lighten" stroke-width="2" stroke-linecap="round"/>
<line x1="270.7" y1="96.5" x2="337.2" y2="45.2" stroke="rgb(10,10,10)" style="mix-blend-mode:lighten" stroke-width="2" stroke-linecap="round"/>
<line x1="140.7" y1="382.5" x2="108.7" y2="458.8" stroke="rgb(5,5,5)" style="mix-blend-mode:lighten" stroke-width="2" stroke-linecap="round"/>
<line x1="210.9" y1="403.6" x2="240.5" y2="481.9" stroke="rgb(6,6,6)" style="mix-blend-mode:lighten" stroke-width="2" stroke-linecap="round"/>
<line x1="296.7" y1="291.8" x2="373.2" y2="308.2" stroke="rgb(10,10,10)" style="mix-blend-mode:lighten" stroke-width="2" stroke-linecap="round"/>
<line x1="261.1" y1="134.2" x2="327" y2="90.5" stroke="rgb(8,8,8)" style="mix-blend-mode:lighten" stroke-width="2" stroke-linecap="round"/>
<line x1="104.6" y1="92.6" x2="48.8" y2="30.4" stroke="rgb(8,8,8)" style="mix-blend-mode:lighten" stroke-width="2" stroke-linecap="round"/>
<line x1="280" y1="172.8" x2="356.7" y2="147.3" stroke="rgb(9,9,9)" style="mix-blend-mode:lighten" stroke-width="2" stroke-linecap="round"/>
<line x1="183.9" y1="406.2" x2="192.4" y2="514.3" stroke="rgb(8,8,8)" style="mix-blend-mode:lighten" stroke-width="2" stroke-linecap="round"/>
<line x1="86.7" y1="193.5" x2="13.3" y2="172.8" stroke="rgb(8,8,8)" style="mix-blend-mode:lighten" stroke-width="2" stroke-linecap="round"/>
<line x1="290.8" y1="262.1" x2="384.3" y2="272.7" stroke="rgb(5,5,5)" style="mix-blend-mode:lighten" stroke-width="2" stroke-linecap="round"/>
<line x1="98.9" y1="110.9" x2="32.4" y2="48.1" stroke="rgb(7,7,7)" style="mix-blend-mode:lighten" stroke-width="2" stroke-linecap="round"/>
<line x1="143.6" y1="51.4" x2="127" y2="11.3" stroke="rgb(5,5,5)" style="mix-blend-mode:lighten" stroke-width="2" stroke-linecap="round"/>
<line x1="118" y1="52.8" x2="83.6" y2="1.4" stroke="rgb(7,7,7)" style="mix-blend-mode:lighten" stroke-width="2" stroke-linecap="round"/>
<line x1="88.2" y1="145.6" x2="23.9" y2="109.5" stroke="rgb(7,7,7)" style="mix-blend-mode:lighten" stroke-width="2" stroke-linecap="round"/>
<line x1="97.4" y1="374.7" x2="45.6" y2="419.4" stroke="rgb(7,7,7)" style="mix-blend-mode:lighten" stroke-width="2" stroke-linecap="round"/>
<line x1="188.9" y1="88.5" x2="200.8" y2="9.4" stroke="rgb(9,9,9)" style="mix-blend-mode:lighten" stroke-width="2" stroke-linecap="round"/>
<line x1="138.5" y1="390.5" x2="101.7" y2="480" stroke="rgb(6,6,6)" style="mix-blend-mode:lighten" stroke-width="2" stroke-linecap="round"/>
<line x1="217.7" y1="401.3" x2="254.5" y2="483.3" stroke="rgb(6,6,6)" style="mix-blend-mode:lighten" stroke-width="2" stroke-linecap="round"/>
<line x1="129.7" y1="391.5" x2="84.9" y2="480" stroke="rgb(7,7,7)" style="mix-blend-mode:lighten" stroke-width="2" stroke-linecap="round"/>
<line x1="236.9" y1="112.4" x2="282.5" y2="62.3" stroke="rgb(8,8,8)" style="mix-blend-mode:lighten" stroke-width="2" stroke-linecap="round"/>
<line x1="258.1" y1="121.4" x2="311.1" y2="84.5" stroke="rgb(6,6,6)" style="mix-blend-mode:lighten" stroke-width="2" stroke-linecap="round"/>
<line x1="77.4" y1="208.7" x2="-20.6" y2="190.9" stroke="rgb(9,9,9)" style="mix-blend-mode:lighten" stroke-width="2" stroke-linecap="round"/>
<line x1="217.7" y1="391" x2="258.5" y2="479.2" stroke="rgb(8,8,8)" style="mix-blend-mode:lighten" stroke-width="2" stroke-linecap="round"/>
<line x1="212.4" y1="78.4" x2="234.8" y2="32.4" stroke="rgb(7,7,7)" style="mix-blend-mode:lighten" stroke-width="2" stroke-linecap="round"/>
</g>
<g filter="url(#b6)" style="mix-blend-mode:lighten">
<rect x="-60" y="-60" width="472" height="648" fill="#000"/>
<polygon points="77.9,35.1 268.3,35.1 267.1,263.6 267.1,452.9 264.8,469.4 212.7,457.6 77.9,452.9 77.9,263.6" fill="rgb(22,22,22)" style="mix-blend-mode:lighten"/>
</g>
<g filter="url(#b5)" style="mix-blend-mode:lighten">
<rect x="-60" y="-60" width="472" height="648" fill="#000"/>
<line x1="82.6" y1="44.1" x2="264.8" y2="46.9" stroke="rgb(59,59,59)" style="mix-blend-mode:lighten" stroke-width="11" stroke-linecap="round"/>
<ellipse cx="165.4" cy="50.5" rx="27.5" ry="13.8" fill="rgb(49,49,49)" style="mix-blend-mode:lighten"/>
<ellipse cx="229.3" cy="48.1" rx="32.5" ry="11.2" fill="rgb(49,49,49)" style="mix-blend-mode:lighten"/>
<polygon points="219.8,46.9 264.8,46.9 261.2,141.5 262.4,263.6 265.9,358.2 264.8,457.6 212.7,452.9 203.3,358.2 208,263.6 212.7,236.2 224.5,165.2 217.4,106.1" fill="rgb(43,43,43)" style="mix-blend-mode:lighten"/>
<polygon points="127.6,56.4 217.4,56.4 219.8,212.5 203.3,250.4 193.8,212.5 151.2,207.8 111,245.6 103.9,212.5 141.7,165.2 122.8,122.6" fill="rgb(35,35,35)" style="mix-blend-mode:lighten"/>
<polygon points="80.2,263.6 151.2,263.6 165.4,322.7 208,334.6 208,448.1 132.3,448.1 103.9,396.1 80.2,334.6" fill="rgb(24,24,24)" style="mix-blend-mode:lighten"/>
<ellipse cx="148.8" cy="70.6" rx="8.8" ry="8.8" fill="rgb(48,48,48)" style="mix-blend-mode:lighten"/>
<ellipse cx="165.4" cy="94.2" rx="12.5" ry="18.8" fill="rgb(48,48,48)" style="mix-blend-mode:lighten"/>
<ellipse cx="179.6" cy="104.9" rx="12.5" ry="11.2" fill="rgb(49,49,49)" style="mix-blend-mode:lighten"/>
<ellipse cx="179.6" cy="77.7" rx="17.5" ry="11.2" fill="rgb(41,41,41)" style="mix-blend-mode:lighten"/>
<ellipse cx="139.4" cy="129.7" rx="11.2" ry="20" fill="rgb(49,49,49)" style="mix-blend-mode:lighten" transform="rotate(-25 139.4 129.7)"/>
<ellipse cx="176" cy="133.3" rx="11.2" ry="15" fill="rgb(49,49,49)" style="mix-blend-mode:lighten"/>
<ellipse cx="132.3" cy="101.3" rx="7.5" ry="7.5" fill="rgb(45,45,45)" style="mix-blend-mode:lighten"/>
<ellipse cx="151.2" cy="188.9" rx="12.5" ry="25" fill="rgb(49,49,49)" style="mix-blend-mode:lighten" transform="rotate(30 151.2 188.9)"/>
<ellipse cx="128.7" cy="210.2" rx="17.5" ry="15" fill="rgb(49,49,49)" style="mix-blend-mode:lighten"/>
<ellipse cx="111" cy="226.7" rx="12.5" ry="17.5" fill="rgb(45,45,45)" style="mix-blend-mode:lighten" transform="rotate(30 111 226.7)"/>
<line x1="111" y1="236.2" x2="160.7" y2="179.4" stroke="rgb(45,45,45)" style="mix-blend-mode:lighten" stroke-width="18" stroke-linecap="round"/>
<ellipse cx="208" cy="177" rx="11.2" ry="20" fill="rgb(49,49,49)" style="mix-blend-mode:lighten"/>
<ellipse cx="189.1" cy="155.7" rx="13.8" ry="13.8" fill="rgb(45,45,45)" style="mix-blend-mode:lighten"/>
<ellipse cx="179.6" cy="186.5" rx="8.8" ry="11.2" fill="rgb(45,45,45)" style="mix-blend-mode:lighten"/>
<ellipse cx="236.4" cy="200.7" rx="13.8" ry="20" fill="rgb(49,49,49)" style="mix-blend-mode:lighten"/>
<ellipse cx="200.9" cy="207.8" rx="15" ry="12.5" fill="rgb(45,45,45)" style="mix-blend-mode:lighten"/>
<ellipse cx="87.3" cy="186.5" rx="8.8" ry="11.2" fill="rgb(41,41,41)" style="mix-blend-mode:lighten"/>
<ellipse cx="151.2" cy="257.5" rx="11.2" ry="8.8" fill="rgb(49,49,49)" style="mix-blend-mode:lighten"/>
<ellipse cx="200.9" cy="236.2" rx="8.8" ry="15" fill="rgb(49,49,49)" style="mix-blend-mode:lighten"/>
<ellipse cx="200.9" cy="70.6" rx="25" ry="12.5" fill="rgb(43,43,43)" style="mix-blend-mode:lighten"/>
<ellipse cx="226.9" cy="99" rx="12.5" ry="37.5" fill="rgb(48,48,48)" style="mix-blend-mode:lighten"/>
<ellipse cx="103.9" cy="132.1" rx="15" ry="37.5" fill="rgb(32,32,32)" style="mix-blend-mode:lighten"/>
<ellipse cx="94.4" cy="70.6" rx="15" ry="31.2" fill="rgb(32,32,32)" style="mix-blend-mode:lighten"/>
<ellipse cx="160.7" cy="146.3" rx="10" ry="15" fill="rgb(41,41,41)" style="mix-blend-mode:lighten"/>
<ellipse cx="151.2" cy="162.8" rx="10" ry="10" fill="rgb(39,39,39)" style="mix-blend-mode:lighten"/>
<ellipse cx="107.4" cy="305" rx="10" ry="10" fill="rgb(49,49,49)" style="mix-blend-mode:lighten"/>
<ellipse cx="132.3" cy="303.8" rx="8.8" ry="13.8" fill="rgb(49,49,49)" style="mix-blend-mode:lighten"/>
<ellipse cx="158.3" cy="345.2" rx="10" ry="10" fill="rgb(49,49,49)" style="mix-blend-mode:lighten"/>
<ellipse cx="164.2" cy="372.9" rx="10" ry="10" fill="rgb(49,49,49)" style="mix-blend-mode:lighten"/>
<ellipse cx="176" cy="334.6" rx="7.5" ry="7.5" fill="rgb(49,49,49)" style="mix-blend-mode:lighten"/>
<ellipse cx="87.3" cy="273.1" rx="6.2" ry="13.8" fill="rgb(45,45,45)" style="mix-blend-mode:lighten"/>
<ellipse cx="113.4" cy="280.2" rx="8.8" ry="8.8" fill="rgb(45,45,45)" style="mix-blend-mode:lighten"/>
<ellipse cx="87.3" cy="332.2" rx="6.2" ry="13.8" fill="rgb(41,41,41)" style="mix-blend-mode:lighten"/>
<ellipse cx="111" cy="358.2" rx="11.2" ry="13.8" fill="rgb(45,45,45)" style="mix-blend-mode:lighten"/>
<ellipse cx="141.7" cy="405.5" rx="18.8" ry="25" fill="rgb(48,48,48)" style="mix-blend-mode:lighten"/>
<ellipse cx="197.3" cy="407.9" rx="8.8" ry="13.8" fill="rgb(49,49,49)" style="mix-blend-mode:lighten"/>
<ellipse cx="85" cy="460" rx="8.8" ry="10" fill="rgb(48,48,48)" style="mix-blend-mode:lighten"/>
<ellipse cx="151.2" cy="436.3" rx="10" ry="15" fill="rgb(43,43,43)" style="mix-blend-mode:lighten"/>
<ellipse cx="155.9" cy="266" rx="8.8" ry="7.5" fill="rgb(49,49,49)" style="mix-blend-mode:lighten"/>
<ellipse cx="127.6" cy="277.8" rx="7.5" ry="10" fill="rgb(43,43,43)" style="mix-blend-mode:lighten"/>
<ellipse cx="146.5" cy="329.8" rx="10" ry="7.5" fill="rgb(43,43,43)" style="mix-blend-mode:lighten"/>
<ellipse cx="189.1" cy="341.7" rx="7.5" ry="10" fill="rgb(43,43,43)" style="mix-blend-mode:lighten"/>
<ellipse cx="122.8" cy="381.9" rx="12.5" ry="12.5" fill="rgb(39,39,39)" style="mix-blend-mode:lighten"/>
<ellipse cx="170.1" cy="396.1" rx="10" ry="10" fill="rgb(34,34,34)" style="mix-blend-mode:lighten"/>
</g>
<g filter="url(#b4)" style="mix-blend-mode:multiply">
<rect x="-60" y="-60" width="472" height="648" fill="#fff"/>
<ellipse cx="141.7" cy="87.1" rx="9" ry="14" fill="rgb(38,38,38)" style="mix-blend-mode:darken" transform="rotate(-20 141.7 87.1)"/>
<ellipse cx="197.3" cy="122.6" rx="8" ry="14" fill="rgb(38,38,38)" style="mix-blend-mode:darken" transform="rotate(-35 197.3 122.6)"/>
<ellipse cx="163" cy="115.5" rx="8" ry="8" fill="rgb(76,76,76)" style="mix-blend-mode:darken"/>
<ellipse cx="111" cy="77.7" rx="8" ry="16" fill="rgb(102,102,102)" style="mix-blend-mode:darken"/>
<ellipse cx="231.6" cy="160.5" rx="8" ry="8" fill="rgb(89,89,89)" style="mix-blend-mode:darken"/>
<ellipse cx="205.6" cy="99" rx="10" ry="14" fill="rgb(128,128,128)" style="mix-blend-mode:darken"/>
<polygon points="151.2,212.5 179.6,207.8 196.2,226.7 189.1,250.4 165.4,263.6 163,263.6 203.3,263.6 205.6,294.4 189.1,322.7 174.9,318 163,292 141.7,277.8 146.5,245.6" fill="rgb(20,20,20)" style="mix-blend-mode:darken"/>
<ellipse cx="146.5" cy="313.3" rx="7" ry="7" fill="rgb(76,76,76)" style="mix-blend-mode:darken"/>
<ellipse cx="141.7" cy="289.6" rx="6" ry="6" fill="rgb(89,89,89)" style="mix-blend-mode:darken"/>
<ellipse cx="132.3" cy="334.6" rx="14" ry="8" fill="rgb(76,76,76)" style="mix-blend-mode:darken"/>
<ellipse cx="200.9" cy="329.8" rx="5" ry="9" fill="rgb(76,76,76)" style="mix-blend-mode:darken"/>
<ellipse cx="215.1" cy="322.7" rx="5" ry="9" fill="rgb(76,76,76)" style="mix-blend-mode:darken"/>
<ellipse cx="179.6" cy="429.2" rx="12" ry="10" fill="rgb(64,64,64)" style="mix-blend-mode:darken"/>
<ellipse cx="106.3" cy="386.6" rx="9" ry="7" fill="rgb(89,89,89)" style="mix-blend-mode:darken"/>
<ellipse cx="99.2" cy="415" rx="12" ry="12" fill="rgb(102,102,102)" style="mix-blend-mode:darken"/>
<ellipse cx="132.3" cy="448.1" rx="10" ry="6" fill="rgb(128,128,128)" style="mix-blend-mode:darken"/>
<ellipse cx="99.2" cy="277.8" rx="6" ry="14" fill="rgb(102,102,102)" style="mix-blend-mode:darken"/>
<ellipse cx="99.2" cy="322.7" rx="7" ry="18" fill="rgb(102,102,102)" style="mix-blend-mode:darken"/>
</g>
<g filter="url(#b4)" style="mix-blend-mode:lighten">
<rect x="-60" y="-60" width="472" height="648" fill="#000"/>
<ellipse cx="165.4" cy="50.5" rx="17.6" ry="9.5" fill="rgb(86,86,86)" style="mix-blend-mode:lighten"/>
<ellipse cx="230.5" cy="46.9" rx="23" ry="6.8" fill="rgb(82,82,82)" style="mix-blend-mode:lighten"/>
<ellipse cx="205.6" cy="62.3" rx="10.8" ry="6.8" fill="rgb(68,68,68)" style="mix-blend-mode:lighten"/>
<ellipse cx="139.4" cy="129.7" rx="6.8" ry="14.9" fill="rgb(75,75,75)" style="mix-blend-mode:lighten" transform="rotate(-25 139.4 129.7)"/>
<ellipse cx="179.6" cy="104.9" rx="6.8" ry="6.8" fill="rgb(73,73,73)" style="mix-blend-mode:lighten"/>
<ellipse cx="176" cy="133.3" rx="6.8" ry="9.5" fill="rgb(63,63,63)" style="mix-blend-mode:lighten"/>
<ellipse cx="151.2" cy="188.9" rx="6.8" ry="17.6" fill="rgb(77,77,77)" style="mix-blend-mode:lighten" transform="rotate(30 151.2 188.9)"/>
<ellipse cx="208" cy="177" rx="6.8" ry="13.5" fill="rgb(70,70,70)" style="mix-blend-mode:lighten"/>
<ellipse cx="236.4" cy="200.7" rx="8.1" ry="13.5" fill="rgb(70,70,70)" style="mix-blend-mode:lighten"/>
<ellipse cx="128.7" cy="210.2" rx="10.8" ry="9.5" fill="rgb(63,63,63)" style="mix-blend-mode:lighten"/>
<polygon points="219.8,277.8 245.8,282.5 250.6,417.4 231.6,448.1 212.7,417.4 213.9,334.6" fill="rgb(63,63,63)" style="mix-blend-mode:lighten"/>
<ellipse cx="229.3" cy="303.8" rx="16.2" ry="13.5" fill="rgb(88,88,88)" style="mix-blend-mode:lighten"/>
<ellipse cx="230.5" cy="365.3" rx="17.6" ry="40.5" fill="rgb(88,88,88)" style="mix-blend-mode:lighten"/>
<ellipse cx="260" cy="464.7" rx="9.5" ry="12.2" fill="rgb(102,102,102)" style="mix-blend-mode:lighten" transform="rotate(-30 260 464.7)"/>
</g>
</g>
<g filter="url(#b1)">
<ellipse cx="91.6" cy="380.7" rx="11" ry="11" fill="url(#hot)"/>
<ellipse cx="115.7" cy="438.2" rx="11" ry="11" fill="url(#hot)"/>
<ellipse cx="200.9" cy="442.2" rx="11.5" ry="11.5" fill="url(#hot)"/>
<ellipse cx="200.9" cy="254.6" rx="9.5" ry="9.5" fill="url(#hot)"/>
</g>
</svg>
<g>
<rect x="616.2" y="61.4" width="352" height="528" fill="none" stroke="#000" stroke-width="3.1"/>
<path d="M598.7 61.4h17.5M606.9 90.7h9.3M598.7 120.1h17.5M606.9 149.4h9.3M598.7 178.7h17.5M606.9 208.1h9.3M598.7 237.4h17.5M606.9 266.7h9.3M598.7 296.1h17.5M606.9 325.4h9.3M598.7 354.7h17.5M606.9 384.1h9.3M598.7 413.4h17.5M606.9 442.7h9.3M598.7 472.1h17.5M606.9 501.4h9.3M598.7 530.7h17.5M606.9 560.1h9.3M598.7 589.4h17.5M616.2 589.4v17.5M645.5 589.4v9.3M674.9 589.4v17.5M704.2 589.4v9.3M733.5 589.4v17.5M762.9 589.4v9.3M792.2 589.4v17.5M821.5 589.4v9.3M850.9 589.4v17.5M880.2 589.4v9.3M909.5 589.4v17.5M938.9 589.4v9.3M968.2 589.4v17.5" stroke="#000" stroke-width="2.9" fill="none"/>
<text x="585.7" y="72.6" text-anchor="end" class="tk">5</text>
<text x="585.7" y="131.3" text-anchor="end" class="tk">4</text>
<text x="585.7" y="189.9" text-anchor="end" class="tk">3</text>
<text x="585.7" y="248.6" text-anchor="end" class="tk">2</text>
<text x="585.7" y="307.3" text-anchor="end" class="tk">1</text>
<text x="585.7" y="365.9" text-anchor="end" class="tk">0</text>
<text x="585.7" y="424.6" text-anchor="end" class="tk">-1</text>
<text x="585.7" y="483.3" text-anchor="end" class="tk">-2</text>
<text x="585.7" y="541.9" text-anchor="end" class="tk">-3</text>
<text x="585.7" y="600.6" text-anchor="end" class="tk">-4</text>
<text x="615.7" y="644.7" text-anchor="middle" class="tk">-3</text>
<text x="674.4" y="644.7" text-anchor="middle" class="tk">-2</text>
<text x="733" y="644.7" text-anchor="middle" class="tk">-1</text>
<text x="792.2" y="644.7" text-anchor="middle" class="tk">0</text>
<text x="850.9" y="644.7" text-anchor="middle" class="tk">1</text>
<text x="909.5" y="644.7" text-anchor="middle" class="tk">2</text>
<text x="968.2" y="644.7" text-anchor="middle" class="tk">3</text>
<text x="792.7" y="687.9" text-anchor="middle" class="al">Position / mm</text>
<text transform="translate(545.2 302.9) rotate(-90)" text-anchor="middle" class="al">Position / mm</text>
<text x="801.2" y="41.4" text-anchor="middle" class="tt">0.675 mAh cm<tspan dy="-14" font-size="23.5">−2</tspan></text>
<text x="526.2" y="38.4" class="pl">b</text>
</g>
<!-- panel c -->
<svg x="1118" y="61.4" width="352" height="528" viewBox="0 0 352 528" overflow="hidden">
<g filter="url(#cmap_c)">
<rect x="-60" y="-60" width="472" height="648" fill="rgb(0,0,0)"/>
<g filter="url(#b1_5)" style="mix-blend-mode:lighten">
<rect x="-60" y="-60" width="472" height="648" fill="#000"/>
<line x1="81.8" y1="318.5" x2="-58" y2="360.4" stroke="rgb(14,14,14)" style="mix-blend-mode:lighten" stroke-width="1.7" stroke-linecap="round"/>
<line x1="76" y1="260.2" x2="-10.9" y2="256.8" stroke="rgb(15,15,15)" style="mix-blend-mode:lighten" stroke-width="1.7" stroke-linecap="round"/>
<line x1="103.2" y1="133.5" x2="46.8" y2="90.2" stroke="rgb(13,13,13)" style="mix-blend-mode:lighten" stroke-width="1.7" stroke-linecap="round"/>
<line x1="279.5" y1="369.3" x2="389.7" y2="433.7" stroke="rgb(10,10,10)" style="mix-blend-mode:lighten" stroke-width="1.7" stroke-linecap="round"/>
<line x1="303.7" y1="246.5" x2="432.6" y2="233.7" stroke="rgb(16,16,16)" style="mix-blend-mode:lighten" stroke-width="1.7" stroke-linecap="round"/>
<line x1="226.6" y1="378.1" x2="285.5" y2="464.1" stroke="rgb(10,10,10)" style="mix-blend-mode:lighten" stroke-width="1.7" stroke-linecap="round"/>
<line x1="215.4" y1="405.3" x2="241.1" y2="454.6" stroke="rgb(14,14,14)" style="mix-blend-mode:lighten" stroke-width="1.7" stroke-linecap="round"/>
<line x1="72.9" y1="337.6" x2="-36.3" y2="374.8" stroke="rgb(16,16,16)" style="mix-blend-mode:lighten" stroke-width="1.7" stroke-linecap="round"/>
<line x1="72.6" y1="268.9" x2="-37.3" y2="269" stroke="rgb(12,12,12)" style="mix-blend-mode:lighten" stroke-width="1.7" stroke-linecap="round"/>
<line x1="305.8" y1="265.7" x2="450.9" y2="263.7" stroke="rgb(17,17,17)" style="mix-blend-mode:lighten" stroke-width="1.7" stroke-linecap="round"/>
<line x1="145.9" y1="402.6" x2="109.7" y2="474.9" stroke="rgb(10,10,10)" style="mix-blend-mode:lighten" stroke-width="1.7" stroke-linecap="round"/>
<line x1="192" y1="111.4" x2="206.1" y2="-22.6" stroke="rgb(13,13,13)" style="mix-blend-mode:lighten" stroke-width="1.7" stroke-linecap="round"/>
<line x1="295.3" y1="219.3" x2="368.3" y2="206.2" stroke="rgb(11,11,11)" style="mix-blend-mode:lighten" stroke-width="1.7" stroke-linecap="round"/>
<line x1="267.4" y1="181.5" x2="393.8" y2="102.4" stroke="rgb(14,14,14)" style="mix-blend-mode:lighten" stroke-width="1.7" stroke-linecap="round"/>
<line x1="278.8" y1="345.7" x2="400.2" y2="402.3" stroke="rgb(12,12,12)" style="mix-blend-mode:lighten" stroke-width="1.7" stroke-linecap="round"/>
<line x1="263.1" y1="348.4" x2="388.2" y2="424.6" stroke="rgb(18,18,18)" style="mix-blend-mode:lighten" stroke-width="1.7" stroke-linecap="round"/>
<line x1="249.3" y1="368" x2="305.3" y2="408.6" stroke="rgb(10,10,10)" style="mix-blend-mode:lighten" stroke-width="1.7" stroke-linecap="round"/>
<line x1="207.7" y1="132.3" x2="240.3" y2="31" stroke="rgb(14,14,14)" style="mix-blend-mode:lighten" stroke-width="1.7" stroke-linecap="round"/>
<line x1="222.9" y1="437.4" x2="253.7" y2="496.2" stroke="rgb(16,16,16)" style="mix-blend-mode:lighten" stroke-width="1.7" stroke-linecap="round"/>
<line x1="255.5" y1="375.2" x2="320.3" y2="422.8" stroke="rgb(12,12,12)" style="mix-blend-mode:lighten" stroke-width="1.7" stroke-linecap="round"/>
<line x1="295.5" y1="234.8" x2="393.3" y2="220.2" stroke="rgb(19,19,19)" style="mix-blend-mode:lighten" stroke-width="1.7" stroke-linecap="round"/>
<line x1="205.9" y1="421.4" x2="239.7" y2="552.8" stroke="rgb(16,16,16)" style="mix-blend-mode:lighten" stroke-width="1.7" stroke-linecap="round"/>
<line x1="281.8" y1="386.1" x2="358.2" y2="428.1" stroke="rgb(12,12,12)" style="mix-blend-mode:lighten" stroke-width="1.7" stroke-linecap="round"/>
<line x1="195.5" y1="117.1" x2="208.6" y2="38.3" stroke="rgb(10,10,10)" style="mix-blend-mode:lighten" stroke-width="1.7" stroke-linecap="round"/>
<line x1="271.4" y1="360.2" x2="348.7" y2="400.1" stroke="rgb(16,16,16)" style="mix-blend-mode:lighten" stroke-width="1.7" stroke-linecap="round"/>
<line x1="112.6" y1="385.3" x2="10.3" y2="490.6" stroke="rgb(15,15,15)" style="mix-blend-mode:lighten" stroke-width="1.7" stroke-linecap="round"/>
<line x1="76.5" y1="182.5" x2="-4.2" y2="151.7" stroke="rgb(11,11,11)" style="mix-blend-mode:lighten" stroke-width="1.7" stroke-linecap="round"/>
<line x1="279.4" y1="166.7" x2="359.3" y2="125.9" stroke="rgb(11,11,11)" style="mix-blend-mode:lighten" stroke-width="1.7" stroke-linecap="round"/>
<line x1="173.9" y1="73.2" x2="167.8" y2="3.7" stroke="rgb(20,20,20)" style="mix-blend-mode:lighten" stroke-width="1.7" stroke-linecap="round"/>
<line x1="260.8" y1="152.4" x2="339.3" y2="90.3" stroke="rgb(10,10,10)" style="mix-blend-mode:lighten" stroke-width="1.7" stroke-linecap="round"/>
<line x1="300.8" y1="316.1" x2="394.2" y2="333.9" stroke="rgb(17,17,17)" style="mix-blend-mode:lighten" stroke-width="1.7" stroke-linecap="round"/>
<line x1="176.9" y1="456.1" x2="171.5" y2="565.6" stroke="rgb(12,12,12)" style="mix-blend-mode:lighten" stroke-width="1.7" stroke-linecap="round"/>
<line x1="232.5" y1="429.6" x2="268.4" y2="480.3" stroke="rgb(12,12,12)" style="mix-blend-mode:lighten" stroke-width="1.7" stroke-linecap="round"/>
<line x1="72.5" y1="199.5" x2="-44" y2="158.9" stroke="rgb(12,12,12)" style="mix-blend-mode:lighten" stroke-width="1.7" stroke-linecap="round"/>
<line x1="259.7" y1="197" x2="319.1" y2="171.4" stroke="rgb(12,12,12)" style="mix-blend-mode:lighten" stroke-width="1.7" stroke-linecap="round"/>
<line x1="103.6" y1="313.5" x2="28.7" y2="336.1" stroke="rgb(13,13,13)" style="mix-blend-mode:lighten" stroke-width="1.7" stroke-linecap="round"/>
<line x1="104.4" y1="207.6" x2="18.7" y2="169.8" stroke="rgb(19,19,19)" style="mix-blend-mode:lighten" stroke-width="1.7" stroke-linecap="round"/>
<line x1="290.3" y1="247.1" x2="418.1" y2="232.5" stroke="rgb(16,16,16)" style="mix-blend-mode:lighten" stroke-width="1.7" stroke-linecap="round"/>
<line x1="234.2" y1="370.8" x2="276.4" y2="410.8" stroke="rgb(19,19,19)" style="mix-blend-mode:lighten" stroke-width="1.7" stroke-linecap="round"/>
<line x1="144.9" y1="80.5" x2="121" y2="30.8" stroke="rgb(16,16,16)" style="mix-blend-mode:lighten" stroke-width="1.7" stroke-linecap="round"/>
<line x1="70.4" y1="288.8" x2="-28.7" y2="297.9" stroke="rgb(20,20,20)" style="mix-blend-mode:lighten" stroke-width="1.7" stroke-linecap="round"/>
<line x1="274.9" y1="345.2" x2="391.5" y2="401.6" stroke="rgb(19,19,19)" style="mix-blend-mode:lighten" stroke-width="1.7" stroke-linecap="round"/>
<line x1="173" y1="89.9" x2="161.8" y2="-39" stroke="rgb(19,19,19)" style="mix-blend-mode:lighten" stroke-width="1.7" stroke-linecap="round"/>
<line x1="116.1" y1="411.4" x2="28.9" y2="523.7" stroke="rgb(19,19,19)" style="mix-blend-mode:lighten" stroke-width="1.7" stroke-linecap="round"/>
<line x1="82.3" y1="360.8" x2="-42.9" y2="428.6" stroke="rgb(16,16,16)" style="mix-blend-mode:lighten" stroke-width="1.7" stroke-linecap="round"/>
<line x1="113.3" y1="157.8" x2="30.9" y2="81.2" stroke="rgb(16,16,16)" style="mix-blend-mode:lighten" stroke-width="1.7" stroke-linecap="round"/>
<line x1="276.9" y1="353" x2="410.7" y2="425.1" stroke="rgb(19,19,19)" style="mix-blend-mode:lighten" stroke-width="1.7" stroke-linecap="round"/>
<line x1="168.7" y1="112.9" x2="151.1" y2="-9.5" stroke="rgb(16,16,16)" style="mix-blend-mode:lighten" stroke-width="1.7" stroke-linecap="round"/>
<line x1="73.1" y1="337.5" x2="-3.4" y2="358.8" stroke="rgb(18,18,18)" style="mix-blend-mode:lighten" stroke-width="1.7" stroke-linecap="round"/>
<line x1="286.8" y1="300.6" x2="396" y2="318.9" stroke="rgb(12,12,12)" style="mix-blend-mode:lighten" stroke-width="1.7" stroke-linecap="round"/>
<line x1="149.4" y1="112.4" x2="111" y2="6.8" stroke="rgb(19,19,19)" style="mix-blend-mode:lighten" stroke-width="1.7" stroke-linecap="round"/>
<line x1="179" y1="399.3" x2="175.8" y2="479.4" stroke="rgb(17,17,17)" style="mix-blend-mode:lighten" stroke-width="1.7" stroke-linecap="round"/>
<line x1="207.8" y1="404.2" x2="248.8" y2="538.6" stroke="rgb(17,17,17)" style="mix-blend-mode:lighten" stroke-width="1.7" stroke-linecap="round"/>
<line x1="70.6" y1="337.3" x2="-25.1" y2="366.8" stroke="rgb(17,17,17)" style="mix-blend-mode:lighten" stroke-width="1.7" stroke-linecap="round"/>
<line x1="213.6" y1="420.5" x2="256.5" y2="544.3" stroke="rgb(19,19,19)" style="mix-blend-mode:lighten" stroke-width="1.7" stroke-linecap="round"/>
<line x1="253" y1="161.4" x2="338.1" y2="87.4" stroke="rgb(13,13,13)" style="mix-blend-mode:lighten" stroke-width="1.7" stroke-linecap="round"/>
<line x1="249" y1="393" x2="339.7" y2="493.9" stroke="rgb(19,19,19)" style="mix-blend-mode:lighten" stroke-width="1.7" stroke-linecap="round"/>
<line x1="152.6" y1="77.9" x2="128.7" y2="2.5" stroke="rgb(11,11,11)" style="mix-blend-mode:lighten" stroke-width="1.7" stroke-linecap="round"/>
<line x1="93.9" y1="314.1" x2="12.6" y2="335.9" stroke="rgb(14,14,14)" style="mix-blend-mode:lighten" stroke-width="1.7" stroke-linecap="round"/>
<line x1="110.2" y1="151.7" x2="42.4" y2="93.8" stroke="rgb(19,19,19)" style="mix-blend-mode:lighten" stroke-width="1.7" stroke-linecap="round"/>
<line x1="281.6" y1="250.4" x2="357.5" y2="243.9" stroke="rgb(9,9,9)" style="mix-blend-mode:lighten" stroke-width="1.7" stroke-linecap="round"/>
<line x1="239.5" y1="173.3" x2="324.6" y2="86.7" stroke="rgb(16,16,16)" style="mix-blend-mode:lighten" stroke-width="1.7" stroke-linecap="round"/>
<line x1="140.3" y1="441.4" x2="112.7" y2="489.8" stroke="rgb(11,11,11)" style="mix-blend-mode:lighten" stroke-width="1.7" stroke-linecap="round"/>
<line x1="103.6" y1="305.5" x2="-22.8" y2="342.7" stroke="rgb(12,12,12)" style="mix-blend-mode:lighten" stroke-width="1.7" stroke-linecap="round"/>
<line x1="234.3" y1="371.8" x2="307.6" y2="459.2" stroke="rgb(14,14,14)" style="mix-blend-mode:lighten" stroke-width="1.7" stroke-linecap="round"/>
<line x1="107.3" y1="140.4" x2="12.8" y2="45.2" stroke="rgb(20,20,20)" style="mix-blend-mode:lighten" stroke-width="1.7" stroke-linecap="round"/>
<line x1="146.3" y1="136.7" x2="104.1" y2="47.3" stroke="rgb(11,11,11)" style="mix-blend-mode:lighten" stroke-width="1.7" stroke-linecap="round"/>
<line x1="282.9" y1="279.6" x2="410.8" y2="287.8" stroke="rgb(11,11,11)" style="mix-blend-mode:lighten" stroke-width="1.7" stroke-linecap="round"/>
<line x1="168.6" y1="421.3" x2="151.1" y2="539.8" stroke="rgb(15,15,15)" style="mix-blend-mode:lighten" stroke-width="1.7" stroke-linecap="round"/>
<line x1="96.7" y1="148.1" x2="16.9" y2="89.2" stroke="rgb(18,18,18)" style="mix-blend-mode:lighten" stroke-width="1.7" stroke-linecap="round"/>
<line x1="252.2" y1="193" x2="369.2" y2="113.4" stroke="rgb(17,17,17)" style="mix-blend-mode:lighten" stroke-width="1.7" stroke-linecap="round"/>
<line x1="250.7" y1="386.4" x2="333.4" y2="468.5" stroke="rgb(19,19,19)" style="mix-blend-mode:lighten" stroke-width="1.7" stroke-linecap="round"/>
<line x1="106.7" y1="387.3" x2="4.6" y2="483.7" stroke="rgb(18,18,18)" style="mix-blend-mode:lighten" stroke-width="1.7" stroke-linecap="round"/>
<line x1="276.6" y1="212.9" x2="392.2" y2="173.4" stroke="rgb(11,11,11)" style="mix-blend-mode:lighten" stroke-width="1.7" stroke-linecap="round"/>
<line x1="161.6" y1="84.2" x2="139.4" y2="-28.2" stroke="rgb(17,17,17)" style="mix-blend-mode:lighten" stroke-width="1.7" stroke-linecap="round"/>
<line x1="209.4" y1="456.5" x2="244.8" y2="600.6" stroke="rgb(20,20,20)" style="mix-blend-mode:lighten" stroke-width="1.7" stroke-linecap="round"/>
<line x1="70.2" y1="225.9" x2="-27.7" y2="207.1" stroke="rgb(19,19,19)" style="mix-blend-mode:lighten" stroke-width="1.7" stroke-linecap="round"/>
<line x1="241" y1="147.1" x2="287.7" y2="101.2" stroke="rgb(14,14,14)" style="mix-blend-mode:lighten" stroke-width="1.7" stroke-linecap="round"/>
<line x1="73.7" y1="211.5" x2="-34.4" y2="180.8" stroke="rgb(9,9,9)" style="mix-blend-mode:lighten" stroke-width="1.7" stroke-linecap="round"/>
<line x1="212.3" y1="143.3" x2="259.4" y2="22.2" stroke="rgb(11,11,11)" style="mix-blend-mode:lighten" stroke-width="1.7" stroke-linecap="round"/>
<line x1="123.6" y1="428" x2="79.8" y2="483.1" stroke="rgb(11,11,11)" style="mix-blend-mode:lighten" stroke-width="1.7" stroke-linecap="round"/>
<line x1="70.6" y1="249.9" x2="-70.2" y2="236" stroke="rgb(17,17,17)" style="mix-blend-mode:lighten" stroke-width="1.7" stroke-linecap="round"/>
<line x1="278.1" y1="213.6" x2="417" y2="165.2" stroke="rgb(10,10,10)" style="mix-blend-mode:lighten" stroke-width="1.7" stroke-linecap="round"/>
<line x1="200.5" y1="432.8" x2="217.4" y2="510.5" stroke="rgb(17,17,17)" style="mix-blend-mode:lighten" stroke-width="1.7" stroke-linecap="round"/>
<line x1="115.6" y1="141" x2="26.1" y2="38.1" stroke="rgb(15,15,15)" style="mix-blend-mode:lighten" stroke-width="1.7" stroke-linecap="round"/>
<line x1="145.3" y1="413.7" x2="93.3" y2="538.2" stroke="rgb(19,19,19)" style="mix-blend-mode:lighten" stroke-width="1.7" stroke-linecap="round"/>
<line x1="212.5" y1="451.7" x2="252.3" y2="593.5" stroke="rgb(15,15,15)" style="mix-blend-mode:lighten" stroke-width="1.7" stroke-linecap="round"/>
<line x1="101.9" y1="204.8" x2="3" y2="159" stroke="rgb(15,15,15)" style="mix-blend-mode:lighten" stroke-width="1.7" stroke-linecap="round"/>
<line x1="117.4" y1="187.6" x2="4.6" y2="97.4" stroke="rgb(15,15,15)" style="mix-blend-mode:lighten" stroke-width="1.7" stroke-linecap="round"/>
<line x1="88.4" y1="377.4" x2="-9.1" y2="439.6" stroke="rgb(15,15,15)" style="mix-blend-mode:lighten" stroke-width="1.7" stroke-linecap="round"/>
<line x1="151.8" y1="143.1" x2="112.3" y2="46.3" stroke="rgb(14,14,14)" style="mix-blend-mode:lighten" stroke-width="1.7" stroke-linecap="round"/>
<line x1="298.3" y1="216.5" x2="392.9" y2="195.9" stroke="rgb(14,14,14)" style="mix-blend-mode:lighten" stroke-width="1.7" stroke-linecap="round"/>
<line x1="251.4" y1="383.4" x2="346.3" y2="477.6" stroke="rgb(19,19,19)" style="mix-blend-mode:lighten" stroke-width="1.7" stroke-linecap="round"/>
<line x1="88.7" y1="291" x2="5.5" y2="301.1" stroke="rgb(16,16,16)" style="mix-blend-mode:lighten" stroke-width="1.7" stroke-linecap="round"/>
<line x1="258.9" y1="205.7" x2="373.9" y2="147.8" stroke="rgb(9,9,9)" style="mix-blend-mode:lighten" stroke-width="1.7" stroke-linecap="round"/>
<line x1="213.1" y1="405.6" x2="255.4" y2="517.1" stroke="rgb(13,13,13)" style="mix-blend-mode:lighten" stroke-width="1.7" stroke-linecap="round"/>
<line x1="115.9" y1="405.4" x2="66.1" y2="453.1" stroke="rgb(17,17,17)" style="mix-blend-mode:lighten" stroke-width="1.7" stroke-linecap="round"/>
<line x1="255.7" y1="384.1" x2="321.1" y2="436.5" stroke="rgb(11,11,11)" style="mix-blend-mode:lighten" stroke-width="1.7" stroke-linecap="round"/>
<line x1="84.2" y1="238.2" x2="-14.4" y2="221.6" stroke="rgb(14,14,14)" style="mix-blend-mode:lighten" stroke-width="1.7" stroke-linecap="round"/>
<line x1="96" y1="242.7" x2="14.3" y2="229.8" stroke="rgb(16,16,16)" style="mix-blend-mode:lighten" stroke-width="1.7" stroke-linecap="round"/>
<line x1="115.2" y1="140.9" x2="24.9" y2="37.6" stroke="rgb(16,16,16)" style="mix-blend-mode:lighten" stroke-width="1.7" stroke-linecap="round"/>
<line x1="238.4" y1="154" x2="317.5" y2="56.8" stroke="rgb(18,18,18)" style="mix-blend-mode:lighten" stroke-width="1.7" stroke-linecap="round"/>
<line x1="259.2" y1="181.3" x2="336.2" y2="134.5" stroke="rgb(20,20,20)" style="mix-blend-mode:lighten" stroke-width="1.7" stroke-linecap="round"/>
<line x1="206.6" y1="464.5" x2="236.3" y2="600.5" stroke="rgb(11,11,11)" style="mix-blend-mode:lighten" stroke-width="1.7" stroke-linecap="round"/>
<line x1="189.5" y1="449.1" x2="195.8" y2="524.8" stroke="rgb(10,10,10)" style="mix-blend-mode:lighten" stroke-width="1.7" stroke-linecap="round"/>
<line x1="230.8" y1="129.9" x2="296.8" y2="17.7" stroke="rgb(10,10,10)" style="mix-blend-mode:lighten" stroke-width="1.7" stroke-linecap="round"/>
<line x1="91.6" y1="370.7" x2="30.3" y2="400.4" stroke="rgb(11,11,11)" style="mix-blend-mode:lighten" stroke-width="1.7" stroke-linecap="round"/>
<line x1="132.5" y1="92" x2="68.8" y2="-41.8" stroke="rgb(10,10,10)" style="mix-blend-mode:lighten" stroke-width="1.7" stroke-linecap="round"/>
<line x1="68.6" y1="262.1" x2="-46.2" y2="258.5" stroke="rgb(17,17,17)" style="mix-blend-mode:lighten" stroke-width="1.7" stroke-linecap="round"/>
<line x1="213.3" y1="393.8" x2="240.9" y2="450" stroke="rgb(9,9,9)" style="mix-blend-mode:lighten" stroke-width="1.7" stroke-linecap="round"/>
<line x1="84.4" y1="215.6" x2="-26.5" y2="181.5" stroke="rgb(11,11,11)" style="mix-blend-mode:lighten" stroke-width="1.7" stroke-linecap="round"/>
<line x1="217.8" y1="400.8" x2="271.7" y2="523.7" stroke="rgb(20,20,20)" style="mix-blend-mode:lighten" stroke-width="1.7" stroke-linecap="round"/>
<line x1="258" y1="208" x2="321.3" y2="183.1" stroke="rgb(20,20,20)" style="mix-blend-mode:lighten" stroke-width="1.7" stroke-linecap="round"/>
<line x1="71.4" y1="311.9" x2="-26.5" y2="331.4" stroke="rgb(14,14,14)" style="mix-blend-mode:lighten" stroke-width="1.7" stroke-linecap="round"/>
<line x1="83.2" y1="253.2" x2="-34.8" y2="242.7" stroke="rgb(9,9,9)" style="mix-blend-mode:lighten" stroke-width="1.7" stroke-linecap="round"/>
<line x1="146.5" y1="88.4" x2="119.2" y2="23.5" stroke="rgb(14,14,14)" style="mix-blend-mode:lighten" stroke-width="1.7" stroke-linecap="round"/>
<line x1="175.4" y1="110.6" x2="169.7" y2="41.2" stroke="rgb(11,11,11)" style="mix-blend-mode:lighten" stroke-width="1.7" stroke-linecap="round"/>
<line x1="101" y1="258.3" x2="-35.3" y2="247.3" stroke="rgb(18,18,18)" style="mix-blend-mode:lighten" stroke-width="1.7" stroke-linecap="round"/>
<line x1="148.9" y1="86" x2="113.3" y2="-22.4" stroke="rgb(14,14,14)" style="mix-blend-mode:lighten" stroke-width="1.7" stroke-linecap="round"/>
<line x1="98.9" y1="171.8" x2="-22.8" y2="84.9" stroke="rgb(18,18,18)" style="mix-blend-mode:lighten" stroke-width="1.7" stroke-linecap="round"/>
<line x1="175.8" y1="462.1" x2="168.7" y2="586.4" stroke="rgb(18,18,18)" style="mix-blend-mode:lighten" stroke-width="1.7" stroke-linecap="round"/>
<line x1="220.8" y1="123.1" x2="276.9" y2="-5.2" stroke="rgb(19,19,19)" style="mix-blend-mode:lighten" stroke-width="1.7" stroke-linecap="round"/>
<line x1="143.3" y1="95.8" x2="97" y2="-23.2" stroke="rgb(14,14,14)" style="mix-blend-mode:lighten" stroke-width="1.7" stroke-linecap="round"/>
<line x1="167.7" y1="135.7" x2="151.8" y2="52.7" stroke="rgb(14,14,14)" style="mix-blend-mode:lighten" stroke-width="1.7" stroke-linecap="round"/>
<line x1="277.8" y1="278.9" x2="398.1" y2="286.5" stroke="rgb(16,16,16)" style="mix-blend-mode:lighten" stroke-width="1.7" stroke-linecap="round"/>
<line x1="195.6" y1="463.5" x2="210.3" y2="579.4" stroke="rgb(13,13,13)" style="mix-blend-mode:lighten" stroke-width="1.7" stroke-linecap="round"/>
<line x1="125.4" y1="125.3" x2="63.7" y2="38.2" stroke="rgb(13,13,13)" style="mix-blend-mode:lighten" stroke-width="1.7" stroke-linecap="round"/>
<line x1="290.5" y1="268.5" x2="419.8" y2="268.4" stroke="rgb(18,18,18)" style="mix-blend-mode:lighten" stroke-width="1.7" stroke-linecap="round"/>
<line x1="263" y1="252.2" x2="376.4" y2="238.3" stroke="rgb(17,17,17)" style="mix-blend-mode:lighten" stroke-width="1.7" stroke-linecap="round"/>
<line x1="177.9" y1="426.6" x2="174.8" y2="481.6" stroke="rgb(11,11,11)" style="mix-blend-mode:lighten" stroke-width="1.7" stroke-linecap="round"/>
<line x1="121.7" y1="365" x2="60.7" y2="417.9" stroke="rgb(19,19,19)" style="mix-blend-mode:lighten" stroke-width="1.7" stroke-linecap="round"/>
<line x1="84.4" y1="217.4" x2="-57.3" y2="172" stroke="rgb(16,16,16)" style="mix-blend-mode:lighten" stroke-width="1.7" stroke-linecap="round"/>
<line x1="290.2" y1="263.2" x2="428.2" y2="259.2" stroke="rgb(10,10,10)" style="mix-blend-mode:lighten" stroke-width="1.7" stroke-linecap="round"/>
<line x1="89.1" y1="163.3" x2="25.3" y2="131.9" stroke="rgb(20,20,20)" style="mix-blend-mode:lighten" stroke-width="1.7" stroke-linecap="round"/>
<line x1="236.2" y1="406.2" x2="281.4" y2="462.7" stroke="rgb(15,15,15)" style="mix-blend-mode:lighten" stroke-width="1.7" stroke-linecap="round"/>
<line x1="118.3" y1="182.4" x2="10" y2="89.4" stroke="rgb(14,14,14)" style="mix-blend-mode:lighten" stroke-width="1.7" stroke-linecap="round"/>
<line x1="77" y1="239.8" x2="-23.3" y2="225.4" stroke="rgb(12,12,12)" style="mix-blend-mode:lighten" stroke-width="1.7" stroke-linecap="round"/>
<line x1="123.1" y1="128.6" x2="69.9" y2="63.7" stroke="rgb(17,17,17)" style="mix-blend-mode:lighten" stroke-width="1.7" stroke-linecap="round"/>
<line x1="158.8" y1="394.1" x2="134.8" y2="465.5" stroke="rgb(10,10,10)" style="mix-blend-mode:lighten" stroke-width="1.7" stroke-linecap="round"/>
<line x1="244.8" y1="420.8" x2="303.3" y2="494.9" stroke="rgb(19,19,19)" style="mix-blend-mode:lighten" stroke-width="1.7" stroke-linecap="round"/>
<line x1="119.9" y1="446.2" x2="60.1" y2="458.3" stroke="rgb(29,29,29)" style="mix-blend-mode:lighten" stroke-width="2.6" stroke-linecap="round"/>
<line x1="120" y1="440.2" x2="58.3" y2="425.9" stroke="rgb(28,28,28)" style="mix-blend-mode:lighten" stroke-width="2.6" stroke-linecap="round"/>
<line x1="124.9" y1="454.3" x2="60.1" y2="535.3" stroke="rgb(29,29,29)" style="mix-blend-mode:lighten" stroke-width="2.6" stroke-linecap="round"/>
<line x1="129.9" y1="456.9" x2="101" y2="561.3" stroke="rgb(29,29,29)" style="mix-blend-mode:lighten" stroke-width="2.6" stroke-linecap="round"/>
<line x1="120.1" y1="446.9" x2="20.6" y2="473" stroke="rgb(29,29,29)" style="mix-blend-mode:lighten" stroke-width="2.6" stroke-linecap="round"/>
<line x1="119.7" y1="444.1" x2="3.5" y2="450" stroke="rgb(18,18,18)" style="mix-blend-mode:lighten" stroke-width="2.6" stroke-linecap="round"/>
<line x1="121.2" y1="449.7" x2="30.7" y2="495.8" stroke="rgb(20,20,20)" style="mix-blend-mode:lighten" stroke-width="2.6" stroke-linecap="round"/>
<line x1="135.7" y1="457.2" x2="151.8" y2="564.9" stroke="rgb(19,19,19)" style="mix-blend-mode:lighten" stroke-width="2.6" stroke-linecap="round"/>
<line x1="124.6" y1="454.1" x2="45.1" y2="547.6" stroke="rgb(23,23,23)" style="mix-blend-mode:lighten" stroke-width="2.6" stroke-linecap="round"/>
<line x1="129.4" y1="456.7" x2="94.5" y2="565.5" stroke="rgb(22,22,22)" style="mix-blend-mode:lighten" stroke-width="2.6" stroke-linecap="round"/>
<line x1="119.8" y1="445.3" x2="11.7" y2="460" stroke="rgb(29,29,29)" style="mix-blend-mode:lighten" stroke-width="2.6" stroke-linecap="round"/>
<line x1="120.1" y1="440" x2="-5.5" y2="408.5" stroke="rgb(20,20,20)" style="mix-blend-mode:lighten" stroke-width="2.6" stroke-linecap="round"/>
<line x1="133.9" y1="457.4" x2="135.8" y2="602.7" stroke="rgb(27,27,27)" style="mix-blend-mode:lighten" stroke-width="2.6" stroke-linecap="round"/>
<line x1="121.2" y1="449.7" x2="39.2" y2="491.3" stroke="rgb(20,20,20)" style="mix-blend-mode:lighten" stroke-width="2.6" stroke-linecap="round"/>
<line x1="120.5" y1="448" x2="14.3" y2="485.3" stroke="rgb(24,24,24)" style="mix-blend-mode:lighten" stroke-width="2.6" stroke-linecap="round"/>
<line x1="121.1" y1="449.5" x2="2.9" y2="506.8" stroke="rgb(19,19,19)" style="mix-blend-mode:lighten" stroke-width="2.6" stroke-linecap="round"/>
</g>
<g filter="url(#b5)" style="mix-blend-mode:lighten">
<rect x="-60" y="-60" width="472" height="648" fill="#000"/>
<polygon points="97,43.4 288.6,43.4 287.4,263.6 287.4,476.5 283.9,483.6 227.1,450.5 99.4,452.9 98.2,263.6" fill="rgb(25,25,25)" style="mix-blend-mode:lighten"/>
</g>
<g filter="url(#b4)" style="mix-blend-mode:lighten">
<rect x="-60" y="-60" width="472" height="648" fill="#000"/>
<polygon points="98.2,44.5 113.6,44.5 113.6,263.6 111.2,363 98.2,363" fill="rgb(41,41,41)" style="mix-blend-mode:lighten"/>
<polygon points="132.5,58.7 285.1,46.9 286.3,263.6 286.7,471.8 227.1,445.8 212.9,381.9 214.1,263.6 212.9,236.2 151.4,236.2 123,263.6 120.7,165.2" fill="rgb(48,48,48)" style="mix-blend-mode:lighten"/>
<polygon points="118.3,353.5 141.9,346.4 189.3,396.1 186.9,452.9 141.9,452.9 132.5,405.5" fill="rgb(45,45,45)" style="mix-blend-mode:lighten"/>
<polygon points="170.3,341.7 198.7,329.8 215.3,341.7 184.5,358.2" fill="rgb(50,50,50)" style="mix-blend-mode:lighten"/>
<ellipse cx="132.5" cy="294.4" rx="9" ry="9" fill="rgb(48,48,48)" style="mix-blend-mode:lighten"/>
<ellipse cx="146.7" cy="277.8" rx="9" ry="11" fill="rgb(48,48,48)" style="mix-blend-mode:lighten"/>
<ellipse cx="165.6" cy="318" rx="8" ry="8" fill="rgb(45,45,45)" style="mix-blend-mode:lighten"/>
<ellipse cx="179.8" cy="303.8" rx="8" ry="10" fill="rgb(48,48,48)" style="mix-blend-mode:lighten"/>
<ellipse cx="196.4" cy="310.9" rx="7" ry="7" fill="rgb(45,45,45)" style="mix-blend-mode:lighten"/>
<ellipse cx="141.9" cy="327.5" rx="6" ry="6" fill="rgb(45,45,45)" style="mix-blend-mode:lighten"/>
<ellipse cx="149" cy="340.5" rx="6" ry="6" fill="rgb(43,43,43)" style="mix-blend-mode:lighten"/>
<ellipse cx="165.6" cy="280.2" rx="10" ry="14" fill="rgb(41,41,41)" style="mix-blend-mode:lighten"/>
<ellipse cx="106.5" cy="292" rx="9" ry="16" fill="rgb(50,50,50)" style="mix-blend-mode:lighten"/>
<ellipse cx="105.3" cy="336.9" rx="11" ry="11" fill="rgb(52,52,52)" style="mix-blend-mode:lighten"/>
<ellipse cx="106.5" cy="452.9" rx="11" ry="22" fill="rgb(52,52,52)" style="mix-blend-mode:lighten"/>
<ellipse cx="108.8" cy="410.3" rx="8" ry="14" fill="rgb(39,39,39)" style="mix-blend-mode:lighten"/>
<ellipse cx="115.9" cy="367.7" rx="9" ry="12" fill="rgb(45,45,45)" style="mix-blend-mode:lighten"/>
<ellipse cx="123" cy="250.4" rx="12" ry="10" fill="rgb(43,43,43)" style="mix-blend-mode:lighten"/>
<ellipse cx="141.9" cy="255.1" rx="14" ry="8" fill="rgb(45,45,45)" style="mix-blend-mode:lighten"/>
</g>
<g filter="url(#b3)" style="mix-blend-mode:multiply">
<rect x="-60" y="-60" width="472" height="648" fill="#fff"/>
<polygon points="114.7,61.1 131.3,61.1 128.9,165.2 118.3,236.2 114.7,236.2" fill="rgb(64,64,64)" style="mix-blend-mode:darken"/>
<ellipse cx="184.5" cy="76.5" rx="6" ry="6" fill="rgb(76,76,76)" style="mix-blend-mode:darken"/>
<ellipse cx="222.4" cy="80" rx="9" ry="5" fill="rgb(115,115,115)" style="mix-blend-mode:darken"/>
<line x1="179.8" y1="122.6" x2="224.7" y2="139.2" stroke="rgb(31,31,31)" style="mix-blend-mode:darken" stroke-width="9" stroke-linecap="round"/>
<ellipse cx="179.8" cy="122.6" rx="9" ry="9" fill="rgb(51,51,51)" style="mix-blend-mode:darken"/>
<ellipse cx="247.2" cy="154.6" rx="7" ry="10" fill="rgb(89,89,89)" style="mix-blend-mode:darken"/>
<ellipse cx="196.4" cy="178.2" rx="6" ry="8" fill="rgb(76,76,76)" style="mix-blend-mode:darken"/>
<ellipse cx="165.6" cy="165.2" rx="5" ry="8" fill="rgb(140,140,140)" style="mix-blend-mode:darken"/>
<ellipse cx="146.7" cy="77.7" rx="10" ry="6" fill="rgb(102,102,102)" style="mix-blend-mode:darken"/>
<ellipse cx="160.9" cy="99" rx="6" ry="10" fill="rgb(128,128,128)" style="mix-blend-mode:darken"/>
<ellipse cx="134.8" cy="113.2" rx="6" ry="12" fill="rgb(115,115,115)" style="mix-blend-mode:darken"/>
<polygon points="165.6,226.7 201.1,205.4 212.9,212.5 208.2,263.6 210.6,263.6 212.9,322.7 194,325.1 165.6,296.7 151.4,273.1 151.4,250.4" fill="rgb(26,26,26)" style="mix-blend-mode:darken"/>
<polygon points="196.4,353.5 212.9,353.5 208.2,405.5 203.5,448.1 189.3,448.1 191.6,405.5" fill="rgb(38,38,38)" style="mix-blend-mode:darken"/>
<polygon points="113.6,263.6 123,263.6 118.3,325.1 113.6,325.1" fill="rgb(76,76,76)" style="mix-blend-mode:darken"/>
<polygon points="99.4,263.6 208.2,263.6 208.2,341.7 118.3,348.8 99.4,341.7" fill="rgb(115,115,115)" style="mix-blend-mode:darken"/>
<polygon points="99.4,396.1 123,396.1 123,452.9 99.4,452.9" fill="rgb(102,102,102)" style="mix-blend-mode:darken"/>
<ellipse cx="153.8" cy="299.1" rx="8" ry="8" fill="rgb(76,76,76)" style="mix-blend-mode:darken"/>
<ellipse cx="175.1" cy="287.3" rx="6" ry="6" fill="rgb(102,102,102)" style="mix-blend-mode:darken"/>
<ellipse cx="189.3" cy="322.7" rx="5" ry="5" fill="rgb(102,102,102)" style="mix-blend-mode:darken"/>
<ellipse cx="208.2" cy="365.3" rx="10" ry="30" fill="rgb(51,51,51)" style="mix-blend-mode:darken"/>
<ellipse cx="127.8" cy="405.5" rx="7" ry="30" fill="rgb(51,51,51)" style="mix-blend-mode:darken"/>
<ellipse cx="201.1" cy="429.2" rx="12" ry="18" fill="rgb(51,51,51)" style="mix-blend-mode:darken"/>
<ellipse cx="151.4" cy="377.2" rx="10" ry="7" fill="rgb(102,102,102)" style="mix-blend-mode:darken"/>
</g>
<g filter="url(#b3)" style="mix-blend-mode:lighten">
<rect x="-60" y="-60" width="472" height="648" fill="#000"/>
<ellipse cx="132.5" cy="294.4" rx="8" ry="8" fill="rgb(48,48,48)" style="mix-blend-mode:lighten"/>
<ellipse cx="146.7" cy="277.8" rx="8" ry="10" fill="rgb(48,48,48)" style="mix-blend-mode:lighten"/>
<ellipse cx="165.6" cy="318" rx="7" ry="7" fill="rgb(45,45,45)" style="mix-blend-mode:lighten"/>
<ellipse cx="179.8" cy="303.8" rx="7" ry="9" fill="rgb(48,48,48)" style="mix-blend-mode:lighten"/>
<ellipse cx="196.4" cy="310.9" rx="6" ry="6" fill="rgb(45,45,45)" style="mix-blend-mode:lighten"/>
<ellipse cx="141.9" cy="327.5" rx="5" ry="5" fill="rgb(45,45,45)" style="mix-blend-mode:lighten"/>
<ellipse cx="149" cy="340.5" rx="5" ry="5" fill="rgb(43,43,43)" style="mix-blend-mode:lighten"/>
<ellipse cx="106.5" cy="292" rx="8" ry="14" fill="rgb(50,50,50)" style="mix-blend-mode:lighten"/>
<ellipse cx="105.3" cy="336.9" rx="9" ry="9" fill="rgb(52,52,52)" style="mix-blend-mode:lighten"/>
<ellipse cx="106.5" cy="452.9" rx="9" ry="20" fill="rgb(50,50,50)" style="mix-blend-mode:lighten"/>
<ellipse cx="163.2" cy="289.6" rx="6" ry="6" fill="rgb(43,43,43)" style="mix-blend-mode:lighten"/>
<ellipse cx="132.5" cy="273.1" rx="7" ry="6" fill="rgb(45,45,45)" style="mix-blend-mode:lighten"/>
<ellipse cx="189.3" cy="277.8" rx="6" ry="8" fill="rgb(43,43,43)" style="mix-blend-mode:lighten"/>
</g>
<g filter="url(#b5)" style="mix-blend-mode:lighten">
<rect x="-60" y="-60" width="472" height="648" fill="#000"/>
<polygon points="175.1,63.5 278,58.7 276.8,263.6 280.3,467.1 231.8,443.4 220,377.2 222.4,263.6 220,231.4 212.9,203.1 175.1,212.5 146.7,250.4 132.5,245.6 132.5,146.3 151.4,113.2 170.3,132.1 175.1,99" fill="rgb(71,71,71)" style="mix-blend-mode:lighten"/>
<line x1="101.7" y1="49.3" x2="281.5" y2="52.8" stroke="rgb(75,75,75)" style="mix-blend-mode:lighten" stroke-width="8" stroke-linecap="round"/>
<ellipse cx="160.9" cy="424.5" rx="22" ry="26" fill="rgb(79,79,79)" style="mix-blend-mode:lighten"/>
<ellipse cx="189.3" cy="344" rx="18" ry="8" fill="rgb(75,75,75)" style="mix-blend-mode:lighten" transform="rotate(-20 189.3 344)"/>
<ellipse cx="183.3" cy="378.3" rx="8" ry="8" fill="rgb(79,79,79)" style="mix-blend-mode:lighten"/>
<ellipse cx="106.5" cy="443.4" rx="6" ry="7" fill="rgb(79,79,79)" style="mix-blend-mode:lighten"/>
<ellipse cx="105.3" cy="336.9" rx="6" ry="6" fill="rgb(91,91,91)" style="mix-blend-mode:lighten"/>
<ellipse cx="106.5" cy="292" rx="5" ry="10" fill="rgb(79,79,79)" style="mix-blend-mode:lighten"/>
</g>
<g filter="url(#b4)" style="mix-blend-mode:multiply">
<rect x="-60" y="-60" width="472" height="648" fill="#fff"/>
<ellipse cx="153.8" cy="77.7" rx="18" ry="10" fill="rgb(140,140,140)" style="mix-blend-mode:darken"/>
<ellipse cx="165.6" cy="165.2" rx="12" ry="20" fill="rgb(153,153,153)" style="mix-blend-mode:darken"/>
<ellipse cx="281.5" cy="141.5" rx="5" ry="90" fill="rgb(153,153,153)" style="mix-blend-mode:darken"/>
<ellipse cx="282.7" cy="358.2" rx="5" ry="100" fill="rgb(153,153,153)" style="mix-blend-mode:darken"/>
<ellipse cx="236.6" cy="236.2" rx="12" ry="18" fill="rgb(158,158,158)" style="mix-blend-mode:darken"/>
<ellipse cx="179.8" cy="151" rx="10" ry="10" fill="rgb(153,153,153)" style="mix-blend-mode:darken"/>
<ellipse cx="227.1" cy="325.1" rx="6" ry="40" fill="rgb(153,153,153)" style="mix-blend-mode:darken"/>
</g>
<g filter="url(#b3)" style="mix-blend-mode:lighten">
<rect x="-60" y="-60" width="472" height="648" fill="#000"/>
<ellipse cx="153.8" cy="129.7" rx="8" ry="14" fill="rgb(109,109,109)" style="mix-blend-mode:lighten"/>
<ellipse cx="222.4" cy="174.7" rx="9" ry="14" fill="rgb(118,118,118)" style="mix-blend-mode:lighten"/>
<ellipse cx="168" cy="193.6" rx="7" ry="11" fill="rgb(125,125,125)" style="mix-blend-mode:lighten" transform="rotate(25 168 193.6)"/>
<ellipse cx="267.3" cy="219.6" rx="8" ry="12" fill="rgb(116,116,116)" style="mix-blend-mode:lighten"/>
<ellipse cx="201.1" cy="108.4" rx="9" ry="7" fill="rgb(107,107,107)" style="mix-blend-mode:lighten"/>
<ellipse cx="248.4" cy="196" rx="6" ry="12" fill="rgb(109,109,109)" style="mix-blend-mode:lighten" transform="rotate(20 248.4 196)"/>
<ellipse cx="153.8" cy="200.7" rx="8" ry="8" fill="rgb(107,107,107)" style="mix-blend-mode:lighten"/>
<ellipse cx="179.8" cy="55.2" rx="24" ry="8" fill="rgb(125,125,125)" style="mix-blend-mode:lighten"/>
<ellipse cx="255.5" cy="53.1" rx="30" ry="7" fill="rgb(125,125,125)" style="mix-blend-mode:lighten"/>
<ellipse cx="250.8" cy="299.1" rx="14" ry="12" fill="rgb(107,107,107)" style="mix-blend-mode:lighten"/>
<ellipse cx="246" cy="348.8" rx="12" ry="14" fill="rgb(109,109,109)" style="mix-blend-mode:lighten"/>
<ellipse cx="250.8" cy="370.1" rx="8" ry="8" fill="rgb(107,107,107)" style="mix-blend-mode:lighten"/>
<ellipse cx="267.3" cy="282.5" rx="8" ry="8" fill="rgb(109,109,109)" style="mix-blend-mode:lighten"/>
<ellipse cx="131.3" cy="283.7" rx="6" ry="6" fill="rgb(125,125,125)" style="mix-blend-mode:lighten"/>
<ellipse cx="106.5" cy="464.7" rx="5" ry="6" fill="rgb(118,118,118)" style="mix-blend-mode:lighten"/>
<ellipse cx="171.5" cy="448.1" rx="4" ry="8" fill="rgb(116,116,116)" style="mix-blend-mode:lighten"/>
<ellipse cx="105.3" cy="336.9" rx="3.5" ry="3.5" fill="rgb(113,113,113)" style="mix-blend-mode:lighten"/>
</g>
</g>
<g filter="url(#b1)">
<ellipse cx="186.9" cy="55.9" rx="13" ry="6.5" fill="url(#hot)"/>
<ellipse cx="247.2" cy="52.6" rx="19" ry="9" fill="url(#hot)"/>
<ellipse cx="267.3" cy="53.5" rx="12" ry="5" fill="url(#hot0)"/>
<ellipse cx="107.6" cy="191.2" rx="8" ry="8" fill="url(#hot)"/>
<ellipse cx="184.1" cy="207.8" rx="8" ry="8" fill="url(#hot)"/>
<ellipse cx="217.6" cy="240.9" rx="7.5" ry="11" fill="url(#hot)"/>
<ellipse cx="220.5" cy="259.8" rx="10.5" ry="12" fill="url(#hot2)"/>
<ellipse cx="107.6" cy="280.2" rx="7.5" ry="7.5" fill="url(#hot0)"/>
<ellipse cx="131.3" cy="283.7" rx="7" ry="7" fill="url(#hot0)"/>
<ellipse cx="129.6" cy="311.6" rx="9.5" ry="9.5" fill="url(#hot)"/>
<ellipse cx="150.2" cy="310.9" rx="7.5" ry="7.5" fill="url(#hot)"/>
<ellipse cx="175.5" cy="266.4" rx="8.5" ry="8.5" fill="url(#hot)"/>
<ellipse cx="199.9" cy="339.8" rx="8" ry="7" fill="url(#hot)"/>
<ellipse cx="183.3" cy="378.3" rx="9" ry="9" fill="url(#hot0)"/>
<ellipse cx="113.6" cy="385.4" rx="12" ry="12.5" fill="url(#hot2)"/>
<ellipse cx="215.8" cy="417.4" rx="9" ry="13" fill="url(#hot)"/>
<ellipse cx="133.7" cy="441" rx="13" ry="19" fill="url(#hot2)" transform="rotate(35 133.7 441)"/>
<ellipse cx="220" cy="446.9" rx="14.5" ry="11.5" fill="url(#hot2)"/>
<ellipse cx="240.8" cy="461.1" rx="8" ry="11.5" fill="url(#hot)"/>
<ellipse cx="278" cy="469.4" rx="13.5" ry="11.5" fill="url(#hot2)" transform="rotate(25 278 469.4)"/>
<ellipse cx="266.1" cy="462.8" rx="9" ry="7" fill="url(#hot)" transform="rotate(25 266.1 462.8)"/>
<ellipse cx="105.3" cy="336.9" rx="8" ry="8" fill="url(#hot0)"/>
<ellipse cx="106.5" cy="464.7" rx="7" ry="8" fill="url(#hot0)"/>
<ellipse cx="171.5" cy="448.1" rx="6" ry="9" fill="url(#hot0)"/>
</g>
</svg>
<g>
<rect x="1118" y="61.4" width="352" height="528" fill="none" stroke="#000" stroke-width="3.1"/>
<path d="M1100.5 61.4h17.5M1108.7 90.7h9.3M1100.5 120.1h17.5M1108.7 149.4h9.3M1100.5 178.7h17.5M1108.7 208.1h9.3M1100.5 237.4h17.5M1108.7 266.7h9.3M1100.5 296.1h17.5M1108.7 325.4h9.3M1100.5 354.7h17.5M1108.7 384.1h9.3M1100.5 413.4h17.5M1108.7 442.7h9.3M1100.5 472.1h17.5M1108.7 501.4h9.3M1100.5 530.7h17.5M1108.7 560.1h9.3M1100.5 589.4h17.5M1118 589.4v17.5M1147.3 589.4v9.3M1176.7 589.4v17.5M1206 589.4v9.3M1235.3 589.4v17.5M1264.7 589.4v9.3M1294 589.4v17.5M1323.3 589.4v9.3M1352.7 589.4v17.5M1382 589.4v9.3M1411.3 589.4v17.5M1440.7 589.4v9.3M1470 589.4v17.5" stroke="#000" stroke-width="2.9" fill="none"/>
<text x="1087.5" y="72.6" text-anchor="end" class="tk">5</text>
<text x="1087.5" y="131.3" text-anchor="end" class="tk">4</text>
<text x="1087.5" y="189.9" text-anchor="end" class="tk">3</text>
<text x="1087.5" y="248.6" text-anchor="end" class="tk">2</text>
<text x="1087.5" y="307.3" text-anchor="end" class="tk">1</text>
<text x="1087.5" y="365.9" text-anchor="end" class="tk">0</text>
<text x="1087.5" y="424.6" text-anchor="end" class="tk">-1</text>
<text x="1087.5" y="483.3" text-anchor="end" class="tk">-2</text>
<text x="1087.5" y="541.9" text-anchor="end" class="tk">-3</text>
<text x="1087.5" y="600.6" text-anchor="end" class="tk">-4</text>
<text x="1117.5" y="644.7" text-anchor="middle" class="tk">-3</text>
<text x="1176.2" y="644.7" text-anchor="middle" class="tk">-2</text>
<text x="1234.8" y="644.7" text-anchor="middle" class="tk">-1</text>
<text x="1294" y="644.7" text-anchor="middle" class="tk">0</text>
<text x="1352.7" y="644.7" text-anchor="middle" class="tk">1</text>
<text x="1411.3" y="644.7" text-anchor="middle" class="tk">2</text>
<text x="1470" y="644.7" text-anchor="middle" class="tk">3</text>
<text x="1294.5" y="687.9" text-anchor="middle" class="al">Position / mm</text>
<text transform="translate(1047 302.9) rotate(-90)" text-anchor="middle" class="al">Position / mm</text>
<text x="1303" y="41.4" text-anchor="middle" class="tt">1.275 mAh cm<tspan dy="-14" font-size="23.5">−2</tspan></text>
<text x="1028" y="38.4" class="pl">c</text>
</g>
<!-- panel d -->
<svg x="113.4" y="768" width="352" height="528" viewBox="0 0 352 528" overflow="hidden">
<g filter="url(#cmap_d)">
<rect x="-60" y="-60" width="472" height="648" fill="rgb(0,0,0)"/>
<g filter="url(#b1)" style="mix-blend-mode:lighten">
<rect x="-60" y="-60" width="472" height="648" fill="#000"/>
<ellipse cx="217.6" cy="389" rx="2.5" ry="2.5" fill="rgb(10,10,10)" style="mix-blend-mode:lighten"/>
<ellipse cx="326.9" cy="388" rx="2.5" ry="2.5" fill="rgb(11,11,11)" style="mix-blend-mode:lighten"/>
<ellipse cx="14.5" cy="246.8" rx="2.5" ry="2.5" fill="rgb(11,11,11)" style="mix-blend-mode:lighten"/>
<ellipse cx="226.5" cy="471" rx="2.5" ry="2.5" fill="rgb(6,6,6)" style="mix-blend-mode:lighten"/>
<ellipse cx="165" cy="134" rx="2.5" ry="2.5" fill="rgb(9,9,9)" style="mix-blend-mode:lighten"/>
<ellipse cx="200.9" cy="13.8" rx="2.5" ry="2.5" fill="rgb(7,7,7)" style="mix-blend-mode:lighten"/>
<ellipse cx="100.2" cy="478.9" rx="2.5" ry="2.5" fill="rgb(10,10,10)" style="mix-blend-mode:lighten"/>
<ellipse cx="59.2" cy="417.5" rx="2.5" ry="2.5" fill="rgb(6,6,6)" style="mix-blend-mode:lighten"/>
<ellipse cx="215.8" cy="72.3" rx="2.5" ry="2.5" fill="rgb(6,6,6)" style="mix-blend-mode:lighten"/>
<ellipse cx="302.6" cy="114.9" rx="2.5" ry="2.5" fill="rgb(7,7,7)" style="mix-blend-mode:lighten"/>
<ellipse cx="340.6" cy="456.3" rx="2.5" ry="2.5" fill="rgb(7,7,7)" style="mix-blend-mode:lighten"/>
<ellipse cx="333.4" cy="284.7" rx="2.5" ry="2.5" fill="rgb(10,10,10)" style="mix-blend-mode:lighten"/>
<ellipse cx="74.6" cy="491.6" rx="2.5" ry="2.5" fill="rgb(10,10,10)" style="mix-blend-mode:lighten"/>
<ellipse cx="335.2" cy="467.3" rx="2.5" ry="2.5" fill="rgb(7,7,7)" style="mix-blend-mode:lighten"/>
<ellipse cx="128.1" cy="92.5" rx="2.5" ry="2.5" fill="rgb(6,6,6)" style="mix-blend-mode:lighten"/>
<ellipse cx="26.9" cy="162.2" rx="2.5" ry="2.5" fill="rgb(9,9,9)" style="mix-blend-mode:lighten"/>
<ellipse cx="5.8" cy="356.1" rx="2.5" ry="2.5" fill="rgb(8,8,8)" style="mix-blend-mode:lighten"/>
<ellipse cx="110.6" cy="428.5" rx="2.5" ry="2.5" fill="rgb(8,8,8)" style="mix-blend-mode:lighten"/>
<ellipse cx="112.6" cy="254.8" rx="2.5" ry="2.5" fill="rgb(10,10,10)" style="mix-blend-mode:lighten"/>
<ellipse cx="24.1" cy="509.2" rx="2.5" ry="2.5" fill="rgb(6,6,6)" style="mix-blend-mode:lighten"/>
<ellipse cx="261" cy="442.1" rx="2.5" ry="2.5" fill="rgb(6,6,6)" style="mix-blend-mode:lighten"/>
<ellipse cx="274" cy="195.6" rx="2.5" ry="2.5" fill="rgb(9,9,9)" style="mix-blend-mode:lighten"/>
<ellipse cx="7.7" cy="31.1" rx="2.5" ry="2.5" fill="rgb(7,7,7)" style="mix-blend-mode:lighten"/>
<ellipse cx="331.3" cy="108.2" rx="2.5" ry="2.5" fill="rgb(10,10,10)" style="mix-blend-mode:lighten"/>
<ellipse cx="322.5" cy="492.2" rx="2.5" ry="2.5" fill="rgb(8,8,8)" style="mix-blend-mode:lighten"/>
<ellipse cx="125.9" cy="277.2" rx="2.5" ry="2.5" fill="rgb(10,10,10)" style="mix-blend-mode:lighten"/>
<ellipse cx="41.6" cy="392.4" rx="2.5" ry="2.5" fill="rgb(10,10,10)" style="mix-blend-mode:lighten"/>
<ellipse cx="298.6" cy="25.9" rx="2.5" ry="2.5" fill="rgb(11,11,11)" style="mix-blend-mode:lighten"/>
<ellipse cx="35.8" cy="182.5" rx="2.5" ry="2.5" fill="rgb(9,9,9)" style="mix-blend-mode:lighten"/>
<ellipse cx="318.6" cy="182.1" rx="2.5" ry="2.5" fill="rgb(11,11,11)" style="mix-blend-mode:lighten"/>
<ellipse cx="191" cy="167.9" rx="2.5" ry="2.5" fill="rgb(7,7,7)" style="mix-blend-mode:lighten"/>
<ellipse cx="65.3" cy="47.3" rx="2.5" ry="2.5" fill="rgb(7,7,7)" style="mix-blend-mode:lighten"/>
<ellipse cx="240.3" cy="520.3" rx="2.5" ry="2.5" fill="rgb(7,7,7)" style="mix-blend-mode:lighten"/>
<ellipse cx="21.2" cy="515.2" rx="2.5" ry="2.5" fill="rgb(9,9,9)" style="mix-blend-mode:lighten"/>
<ellipse cx="143.4" cy="129.2" rx="2.5" ry="2.5" fill="rgb(9,9,9)" style="mix-blend-mode:lighten"/>
<ellipse cx="287.2" cy="241.7" rx="2.5" ry="2.5" fill="rgb(8,8,8)" style="mix-blend-mode:lighten"/>
<ellipse cx="23.7" cy="478.8" rx="2.5" ry="2.5" fill="rgb(6,6,6)" style="mix-blend-mode:lighten"/>
<ellipse cx="173.4" cy="438.8" rx="2.5" ry="2.5" fill="rgb(6,6,6)" style="mix-blend-mode:lighten"/>
<ellipse cx="254.8" cy="496.1" rx="2.5" ry="2.5" fill="rgb(9,9,9)" style="mix-blend-mode:lighten"/>
<ellipse cx="274.1" cy="61.9" rx="2.5" ry="2.5" fill="rgb(8,8,8)" style="mix-blend-mode:lighten"/>
<ellipse cx="55.6" cy="442" rx="2.5" ry="2.5" fill="rgb(7,7,7)" style="mix-blend-mode:lighten"/>
<ellipse cx="159.6" cy="521.6" rx="2.5" ry="2.5" fill="rgb(10,10,10)" style="mix-blend-mode:lighten"/>
<ellipse cx="338.4" cy="240.6" rx="2.5" ry="2.5" fill="rgb(8,8,8)" style="mix-blend-mode:lighten"/>
<ellipse cx="254.1" cy="253.7" rx="2.5" ry="2.5" fill="rgb(7,7,7)" style="mix-blend-mode:lighten"/>
<ellipse cx="142.7" cy="82.5" rx="2.5" ry="2.5" fill="rgb(8,8,8)" style="mix-blend-mode:lighten"/>
<ellipse cx="342.6" cy="501.3" rx="2.5" ry="2.5" fill="rgb(9,9,9)" style="mix-blend-mode:lighten"/>
<ellipse cx="175.4" cy="181.3" rx="2.5" ry="2.5" fill="rgb(6,6,6)" style="mix-blend-mode:lighten"/>
<ellipse cx="97.7" cy="409.7" rx="2.5" ry="2.5" fill="rgb(11,11,11)" style="mix-blend-mode:lighten"/>
<ellipse cx="128.2" cy="411.8" rx="2.5" ry="2.5" fill="rgb(10,10,10)" style="mix-blend-mode:lighten"/>
<ellipse cx="242.2" cy="349" rx="2.5" ry="2.5" fill="rgb(10,10,10)" style="mix-blend-mode:lighten"/>
<ellipse cx="128.9" cy="369.8" rx="2.5" ry="2.5" fill="rgb(7,7,7)" style="mix-blend-mode:lighten"/>
<ellipse cx="170.7" cy="403.4" rx="2.5" ry="2.5" fill="rgb(10,10,10)" style="mix-blend-mode:lighten"/>
<ellipse cx="105.1" cy="494" rx="2.5" ry="2.5" fill="rgb(9,9,9)" style="mix-blend-mode:lighten"/>
<ellipse cx="203.2" cy="13" rx="2.5" ry="2.5" fill="rgb(9,9,9)" style="mix-blend-mode:lighten"/>
<ellipse cx="90.3" cy="352.9" rx="2.5" ry="2.5" fill="rgb(8,8,8)" style="mix-blend-mode:lighten"/>
<ellipse cx="283.9" cy="340.4" rx="2.5" ry="2.5" fill="rgb(10,10,10)" style="mix-blend-mode:lighten"/>
<ellipse cx="123.6" cy="338.7" rx="2.5" ry="2.5" fill="rgb(10,10,10)" style="mix-blend-mode:lighten"/>
<ellipse cx="287.8" cy="187.3" rx="2.5" ry="2.5" fill="rgb(10,10,10)" style="mix-blend-mode:lighten"/>
<ellipse cx="302.1" cy="361.5" rx="2.5" ry="2.5" fill="rgb(11,11,11)" style="mix-blend-mode:lighten"/>
<ellipse cx="331.7" cy="273.8" rx="2.5" ry="2.5" fill="rgb(9,9,9)" style="mix-blend-mode:lighten"/>
</g>
<g filter="url(#b11)" style="mix-blend-mode:lighten">
<rect x="-60" y="-60" width="472" height="648" fill="#000"/>
<polygon points="101.3,43.8 287,43.8 289.4,165.6 287,264 287,405.9 283.5,476.9 224.3,467.5 101.3,472.2 97.8,335 100.1,264" fill="rgb(14,14,14)" style="mix-blend-mode:lighten"/>
<ellipse cx="160.5" cy="410.7" rx="26" ry="38" fill="rgb(32,32,32)" style="mix-blend-mode:lighten"/>
<ellipse cx="132.1" cy="358.6" rx="24" ry="30" fill="rgb(27,27,27)" style="mix-blend-mode:lighten"/>
<ellipse cx="103.7" cy="282.9" rx="9" ry="9" fill="rgb(34,34,34)" style="mix-blend-mode:lighten"/>
<ellipse cx="132.1" cy="301.9" rx="20" ry="14" fill="rgb(32,32,32)" style="mix-blend-mode:lighten"/>
<ellipse cx="117.9" cy="82.8" rx="16" ry="30" fill="rgb(29,29,29)" style="mix-blend-mode:lighten"/>
<ellipse cx="122.6" cy="165.6" rx="18" ry="40" fill="rgb(29,29,29)" style="mix-blend-mode:lighten"/>
<ellipse cx="110.8" cy="224.7" rx="12" ry="30" fill="rgb(27,27,27)" style="mix-blend-mode:lighten"/>
</g>
<g filter="url(#b6)" style="mix-blend-mode:lighten">
<rect x="-60" y="-60" width="472" height="648" fill="#000"/>
<ellipse cx="121.4" cy="53.2" rx="34.8" ry="11.6" fill="rgb(45,45,45)" style="mix-blend-mode:lighten" transform="rotate(20 121.4 53.2)"/>
<ellipse cx="151" cy="68.6" rx="29" ry="10.2" fill="rgb(40,40,40)" style="mix-blend-mode:lighten" transform="rotate(15 151 68.6)"/>
<ellipse cx="186.5" cy="56.8" rx="43.5" ry="21.8" fill="rgb(46,46,46)" style="mix-blend-mode:lighten"/>
<polygon points="212.5,54.4 257.5,47.3 264.6,99.4 259.8,165.6 236.2,179.8 226.7,132.5 236.2,99.4 212.5,78.1" fill="rgb(45,45,45)" style="mix-blend-mode:lighten"/>
<polygon points="222,47.3 282.3,44.9 284.7,165.6 285.9,358.6 284.7,467.5 271.7,476.9 212.5,429.6 223.2,287.7 236.2,236.6 240.9,153.8 226.7,99.4" fill="rgb(45,45,45)" style="mix-blend-mode:lighten"/>
<ellipse cx="200.7" cy="104.1" rx="37.7" ry="18.8" fill="rgb(46,46,46)" style="mix-blend-mode:lighten" transform="rotate(-10 200.7 104.1)"/>
<ellipse cx="186.5" cy="89.9" rx="14.5" ry="20.3" fill="rgb(45,45,45)" style="mix-blend-mode:lighten"/>
<ellipse cx="153.4" cy="132.5" rx="15.9" ry="29" fill="rgb(46,46,46)" style="mix-blend-mode:lighten"/>
<ellipse cx="196" cy="149" rx="17.4" ry="29" fill="rgb(45,45,45)" style="mix-blend-mode:lighten"/>
<ellipse cx="207.8" cy="132.5" rx="20.3" ry="11.6" fill="rgb(42,42,42)" style="mix-blend-mode:lighten" transform="rotate(20 207.8 132.5)"/>
<ellipse cx="219.6" cy="179.8" rx="20.3" ry="31.9" fill="rgb(47,47,47)" style="mix-blend-mode:lighten"/>
<ellipse cx="169.9" cy="196.4" rx="20.3" ry="40.6" fill="rgb(47,47,47)" style="mix-blend-mode:lighten" transform="rotate(35 169.9 196.4)"/>
<line x1="169.9" y1="196.4" x2="136.8" y2="241.3" stroke="rgb(44,44,44)" style="mix-blend-mode:lighten" stroke-width="29" stroke-linecap="round"/>
<ellipse cx="132.1" cy="250.8" rx="17.4" ry="20.3" fill="rgb(40,40,40)" style="mix-blend-mode:lighten"/>
<ellipse cx="255.1" cy="212.9" rx="23.2" ry="46.4" fill="rgb(45,45,45)" style="mix-blend-mode:lighten"/>
<ellipse cx="226.7" cy="234.2" rx="15.9" ry="26.1" fill="rgb(45,45,45)" style="mix-blend-mode:lighten"/>
<ellipse cx="238.5" cy="196.4" rx="23.2" ry="17.4" fill="rgb(45,45,45)" style="mix-blend-mode:lighten"/>
<polygon points="219.6,264 281.1,264 283.5,382.3 284.7,467.5 271.7,476.9 212.5,429.6 207.8,410.7 226.7,335 222,292.4" fill="rgb(46,46,46)" style="mix-blend-mode:lighten"/>
<ellipse cx="149.8" cy="308.9" rx="13" ry="13" fill="rgb(45,45,45)" style="mix-blend-mode:lighten"/>
<ellipse cx="196" cy="342.1" rx="21.8" ry="10.2" fill="rgb(45,45,45)" style="mix-blend-mode:lighten"/>
<ellipse cx="181.8" cy="351.5" rx="10.2" ry="10.2" fill="rgb(45,45,45)" style="mix-blend-mode:lighten"/>
<ellipse cx="182.9" cy="379.9" rx="11.6" ry="11.6" fill="rgb(42,42,42)" style="mix-blend-mode:lighten"/>
<ellipse cx="115.5" cy="422.5" rx="8.7" ry="8.7" fill="rgb(36,36,36)" style="mix-blend-mode:lighten"/>
<ellipse cx="141.5" cy="462.7" rx="5.8" ry="11.6" fill="rgb(38,38,38)" style="mix-blend-mode:lighten"/>
<ellipse cx="212.5" cy="420.1" rx="11.6" ry="11.6" fill="rgb(45,45,45)" style="mix-blend-mode:lighten"/>
<ellipse cx="113.2" cy="386.5" rx="15.9" ry="17.4" fill="rgb(47,47,47)" style="mix-blend-mode:lighten"/>
<ellipse cx="133.3" cy="445" rx="14.5" ry="15.9" fill="rgb(47,47,47)" style="mix-blend-mode:lighten"/>
<ellipse cx="219.6" cy="447.3" rx="15.9" ry="15.9" fill="rgb(47,47,47)" style="mix-blend-mode:lighten"/>
<ellipse cx="173.5" cy="269.9" rx="13" ry="13" fill="rgb(47,47,47)" style="mix-blend-mode:lighten"/>
<ellipse cx="127.4" cy="308.9" rx="14.5" ry="10.2" fill="rgb(36,36,36)" style="mix-blend-mode:lighten"/>
<ellipse cx="106.1" cy="285.3" rx="10.2" ry="10.2" fill="rgb(36,36,36)" style="mix-blend-mode:lighten"/>
</g>
<g filter="url(#b4)" style="mix-blend-mode:multiply">
<rect x="-60" y="-60" width="472" height="648" fill="#fff"/>
<ellipse cx="222" cy="94.6" rx="6" ry="7" fill="rgb(76,76,76)" style="mix-blend-mode:darken"/>
<line x1="181.8" y1="125.4" x2="224.3" y2="139.6" stroke="rgb(31,31,31)" style="mix-blend-mode:darken" stroke-width="8" stroke-linecap="round"/>
<ellipse cx="179.4" cy="132.5" rx="7" ry="12" fill="rgb(51,51,51)" style="mix-blend-mode:darken"/>
<ellipse cx="248" cy="165.6" rx="6" ry="11" fill="rgb(51,51,51)" style="mix-blend-mode:darken"/>
<ellipse cx="125" cy="118.3" rx="8" ry="8" fill="rgb(89,89,89)" style="mix-blend-mode:darken"/>
<ellipse cx="160.5" cy="94.6" rx="7" ry="7" fill="rgb(76,76,76)" style="mix-blend-mode:darken"/>
<ellipse cx="181.8" cy="80.4" rx="8" ry="5" fill="rgb(102,102,102)" style="mix-blend-mode:darken"/>
<ellipse cx="132.1" cy="78.1" rx="9" ry="5" fill="rgb(128,128,128)" style="mix-blend-mode:darken"/>
<ellipse cx="198.3" cy="179.8" rx="4" ry="9" fill="rgb(128,128,128)" style="mix-blend-mode:darken"/>
<ellipse cx="188.9" cy="241.3" rx="25" ry="27" fill="rgb(13,13,13)" style="mix-blend-mode:darken"/>
<polygon points="165.2,236.6 212.5,236.6 218.4,264 216.1,318.4 188.9,325.5 179.4,278.2 165.2,264" fill="rgb(26,26,26)" style="mix-blend-mode:darken"/>
<ellipse cx="188.9" cy="370.5" rx="18" ry="12" fill="rgb(102,102,102)" style="mix-blend-mode:darken" transform="rotate(30 188.9 370.5)"/>
<ellipse cx="165.2" cy="278.2" rx="10" ry="10" fill="rgb(102,102,102)" style="mix-blend-mode:darken"/>
</g>
<g filter="url(#b6)" style="mix-blend-mode:lighten">
<rect x="-60" y="-60" width="472" height="648" fill="#000"/>
<ellipse cx="187.7" cy="58" rx="20.2" ry="9.5" fill="rgb(86,86,86)" style="mix-blend-mode:lighten"/>
<ellipse cx="190" cy="58" rx="6.8" ry="5.4" fill="rgb(107,107,107)" style="mix-blend-mode:lighten"/>
<ellipse cx="203.1" cy="110" rx="18.9" ry="8.1" fill="rgb(66,66,66)" style="mix-blend-mode:lighten" transform="rotate(-10 203.1 110)"/>
<ellipse cx="219.6" cy="179.8" rx="10.8" ry="20.2" fill="rgb(79,79,79)" style="mix-blend-mode:lighten"/>
<ellipse cx="169.9" cy="195.2" rx="10.8" ry="24.3" fill="rgb(79,79,79)" style="mix-blend-mode:lighten" transform="rotate(35 169.9 195.2)"/>
<ellipse cx="153.4" cy="132.5" rx="6.8" ry="14.9" fill="rgb(61,61,61)" style="mix-blend-mode:lighten"/>
<ellipse cx="250.4" cy="306.6" rx="18.9" ry="29.7" fill="rgb(71,71,71)" style="mix-blend-mode:lighten"/>
<ellipse cx="250.4" cy="368.1" rx="14.9" ry="51.3" fill="rgb(67,67,67)" style="mix-blend-mode:lighten"/>
<ellipse cx="248" cy="335" rx="18.9" ry="67.5" fill="rgb(61,61,61)" style="mix-blend-mode:lighten"/>
<ellipse cx="245.6" cy="405.9" rx="16.2" ry="40.5" fill="rgb(59,59,59)" style="mix-blend-mode:lighten"/>
<ellipse cx="113.2" cy="386.5" rx="8.1" ry="9.5" fill="rgb(86,86,86)" style="mix-blend-mode:lighten"/>
<ellipse cx="133.3" cy="445" rx="7.4" ry="8.1" fill="rgb(82,82,82)" style="mix-blend-mode:lighten"/>
<ellipse cx="219.6" cy="447.3" rx="8.1" ry="8.1" fill="rgb(93,93,93)" style="mix-blend-mode:lighten"/>
<ellipse cx="173.5" cy="269.9" rx="6.8" ry="6.8" fill="rgb(68,68,68)" style="mix-blend-mode:lighten"/>
<ellipse cx="281.1" cy="471" rx="6.8" ry="8.1" fill="rgb(70,70,70)" style="mix-blend-mode:lighten"/>
</g>
<g filter="url(#b3)" style="mix-blend-mode:lighten">
<rect x="-60" y="-60" width="472" height="648" fill="#000"/>
<ellipse cx="113.2" cy="386.5" rx="9" ry="10" fill="rgb(84,84,84)" style="mix-blend-mode:lighten"/>
<ellipse cx="133.3" cy="445" rx="8.5" ry="9" fill="rgb(79,79,79)" style="mix-blend-mode:lighten"/>
<ellipse cx="219.6" cy="447.3" rx="9" ry="9" fill="rgb(91,91,91)" style="mix-blend-mode:lighten"/>
<ellipse cx="173.5" cy="269.9" rx="8" ry="8" fill="rgb(66,66,66)" style="mix-blend-mode:lighten"/>
<ellipse cx="281.1" cy="471" rx="7" ry="8" fill="rgb(68,68,68)" style="mix-blend-mode:lighten"/>
</g>
</g>
<g filter="url(#b1)">
<ellipse cx="219.6" cy="258.3" rx="9" ry="9" fill="url(#hot0)"/>
</g>
</svg>
<g>
<rect x="113.4" y="768" width="352" height="528" fill="none" stroke="#000" stroke-width="3.1"/>
<path d="M95.9 768h17.5M104.1 797.3h9.3M95.9 826.7h17.5M104.1 856h9.3M95.9 885.3h17.5M104.1 914.7h9.3M95.9 944h17.5M104.1 973.3h9.3M95.9 1002.7h17.5M104.1 1032h9.3M95.9 1061.3h17.5M104.1 1090.7h9.3M95.9 1120h17.5M104.1 1149.3h9.3M95.9 1178.7h17.5M104.1 1208h9.3M95.9 1237.3h17.5M104.1 1266.7h9.3M95.9 1296h17.5M113.4 1296v17.5M142.7 1296v9.3M172.1 1296v17.5M201.4 1296v9.3M230.7 1296v17.5M260.1 1296v9.3M289.4 1296v17.5M318.7 1296v9.3M348.1 1296v17.5M377.4 1296v9.3M406.7 1296v17.5M436.1 1296v9.3M465.4 1296v17.5" stroke="#000" stroke-width="2.9" fill="none"/>
<text x="82.9" y="779.2" text-anchor="end" class="tk">5</text>
<text x="82.9" y="837.9" text-anchor="end" class="tk">4</text>
<text x="82.9" y="896.5" text-anchor="end" class="tk">3</text>
<text x="82.9" y="955.2" text-anchor="end" class="tk">2</text>
<text x="82.9" y="1013.9" text-anchor="end" class="tk">1</text>
<text x="82.9" y="1072.5" text-anchor="end" class="tk">0</text>
<text x="82.9" y="1131.2" text-anchor="end" class="tk">-1</text>
<text x="82.9" y="1189.9" text-anchor="end" class="tk">-2</text>
<text x="82.9" y="1248.5" text-anchor="end" class="tk">-3</text>
<text x="82.9" y="1307.2" text-anchor="end" class="tk">-4</text>
<text x="112.9" y="1351.3" text-anchor="middle" class="tk">-3</text>
<text x="171.6" y="1351.3" text-anchor="middle" class="tk">-2</text>
<text x="230.2" y="1351.3" text-anchor="middle" class="tk">-1</text>
<text x="289.4" y="1351.3" text-anchor="middle" class="tk">0</text>
<text x="348.1" y="1351.3" text-anchor="middle" class="tk">1</text>
<text x="406.7" y="1351.3" text-anchor="middle" class="tk">2</text>
<text x="465.4" y="1351.3" text-anchor="middle" class="tk">3</text>
<text x="289.9" y="1394.5" text-anchor="middle" class="al">Position / mm</text>
<text transform="translate(42.4 1009.5) rotate(-90)" text-anchor="middle" class="al">Position / mm</text>
<text x="298.4" y="748" text-anchor="middle" class="tt">0.675 mAh cm<tspan dy="-14" font-size="23.5">−2</tspan></text>
<text x="23.4" y="745" class="pl">d</text>
</g>
<!-- panel e -->
<svg x="616.2" y="768" width="352" height="528" viewBox="0 0 352 528" overflow="hidden">
<g filter="url(#cmap)">
<rect x="-60" y="-60" width="472" height="648" fill="rgb(0,0,0)"/>
<g filter="url(#b22)" style="mix-blend-mode:lighten">
<rect x="-60" y="-60" width="472" height="648" fill="#000"/>
<polygon points="123.6,41.3 255,37.5 288.7,112.6 292.5,337.7 303.7,469 262.5,491.6 157.4,495.3 97.4,476.5 89.9,300.2 97.4,112.6" fill="rgb(15,15,15)" style="mix-blend-mode:lighten"/>
</g>
<g filter="url(#b10)" style="mix-blend-mode:lighten">
<rect x="-60" y="-60" width="472" height="648" fill="#000"/>
<ellipse cx="142.4" cy="71.3" rx="22.5" ry="22.5" fill="rgb(34,34,34)" style="mix-blend-mode:lighten"/>
<ellipse cx="221.2" cy="90.1" rx="28.1" ry="39.4" fill="rgb(36,36,36)" style="mix-blend-mode:lighten"/>
<ellipse cx="211.8" cy="148.2" rx="31" ry="22.5" fill="rgb(50,50,50)" style="mix-blend-mode:lighten"/>
<ellipse cx="194.9" cy="187.6" rx="22.5" ry="22.5" fill="rgb(40,40,40)" style="mix-blend-mode:lighten"/>
<ellipse cx="127.4" cy="183.9" rx="28.1" ry="16.9" fill="rgb(34,34,34)" style="mix-blend-mode:lighten"/>
<ellipse cx="221.2" cy="258.9" rx="28.1" ry="22.5" fill="rgb(40,40,40)" style="mix-blend-mode:lighten"/>
<ellipse cx="168.7" cy="266.4" rx="19.7" ry="19.7" fill="rgb(34,34,34)" style="mix-blend-mode:lighten"/>
<ellipse cx="251.2" cy="288.9" rx="22.5" ry="28.1" fill="rgb(32,32,32)" style="mix-blend-mode:lighten"/>
<ellipse cx="138.6" cy="300.2" rx="28.1" ry="33.8" fill="rgb(39,39,39)" style="mix-blend-mode:lighten"/>
<ellipse cx="194.9" cy="339.6" rx="33.8" ry="19.7" fill="rgb(40,40,40)" style="mix-blend-mode:lighten"/>
<ellipse cx="183.7" cy="380.9" rx="16.9" ry="16.9" fill="rgb(36,36,36)" style="mix-blend-mode:lighten"/>
<ellipse cx="243.7" cy="326.5" rx="22.5" ry="22.5" fill="rgb(31,31,31)" style="mix-blend-mode:lighten"/>
<ellipse cx="247.5" cy="221.4" rx="22.5" ry="22.5" fill="rgb(30,30,30)" style="mix-blend-mode:lighten"/>
<ellipse cx="112.4" cy="273.9" rx="19.7" ry="19.7" fill="rgb(29,29,29)" style="mix-blend-mode:lighten"/>
<ellipse cx="262.5" cy="157.6" rx="22.5" ry="33.8" fill="rgb(26,26,26)" style="mix-blend-mode:lighten"/>
<ellipse cx="172.4" cy="123.8" rx="22.5" ry="22.5" fill="rgb(27,27,27)" style="mix-blend-mode:lighten"/>
<ellipse cx="123.6" cy="127.6" rx="19.7" ry="28.1" fill="rgb(24,24,24)" style="mix-blend-mode:lighten"/>
<ellipse cx="232.4" cy="379" rx="22.5" ry="22.5" fill="rgb(26,26,26)" style="mix-blend-mode:lighten"/>
<ellipse cx="149.9" cy="225.1" rx="22.5" ry="16.9" fill="rgb(27,27,27)" style="mix-blend-mode:lighten"/>
<ellipse cx="112.4" cy="390.2" rx="22.5" ry="23.6" fill="rgb(46,46,46)" style="mix-blend-mode:lighten"/>
<ellipse cx="134.9" cy="446.5" rx="27" ry="34.9" fill="rgb(47,47,47)" style="mix-blend-mode:lighten"/>
<ellipse cx="215.6" cy="435.3" rx="22.5" ry="40.5" fill="rgb(47,47,47)" style="mix-blend-mode:lighten"/>
<ellipse cx="273.7" cy="470.9" rx="24.8" ry="22.5" fill="rgb(46,46,46)" style="mix-blend-mode:lighten"/>
</g>
<g filter="url(#b8)" style="mix-blend-mode:multiply">
<rect x="-60" y="-60" width="472" height="648" fill="#fff"/>
<ellipse cx="183.7" cy="232.6" rx="16" ry="13" fill="rgb(89,89,89)" style="mix-blend-mode:darken"/>
<ellipse cx="202.4" cy="296.4" rx="11" ry="17" fill="rgb(102,102,102)" style="mix-blend-mode:darken"/>
<ellipse cx="176.2" cy="416.5" rx="16" ry="20" fill="rgb(128,128,128)" style="mix-blend-mode:darken"/>
</g>
<g filter="url(#b6)" style="mix-blend-mode:lighten">
<rect x="-60" y="-60" width="472" height="648" fill="#000"/>
<ellipse cx="112.4" cy="390.2" rx="12.7" ry="13.6" fill="rgb(79,79,79)" style="mix-blend-mode:lighten"/>
<ellipse cx="134.9" cy="446.5" rx="16.9" ry="22.5" fill="rgb(86,86,86)" style="mix-blend-mode:lighten"/>
<ellipse cx="215.6" cy="424" rx="11.3" ry="18.8" fill="rgb(68,68,68)" style="mix-blend-mode:lighten"/>
<ellipse cx="219.3" cy="448.4" rx="13.1" ry="13.1" fill="rgb(68,68,68)" style="mix-blend-mode:lighten"/>
<ellipse cx="273.7" cy="470.9" rx="13.1" ry="11.3" fill="rgb(59,59,59)" style="mix-blend-mode:lighten"/>
</g>
<g filter="url(#b5)" style="mix-blend-mode:lighten">
<rect x="-60" y="-60" width="472" height="648" fill="#000"/>
<ellipse cx="133" cy="448.4" rx="7.5" ry="9.4" fill="rgb(109,109,109)" style="mix-blend-mode:lighten"/>
</g>
</g>
</svg>
<g>
<rect x="616.2" y="768" width="352" height="528" fill="none" stroke="#000" stroke-width="3.1"/>
<path d="M598.7 768h17.5M606.9 797.3h9.3M598.7 826.7h17.5M606.9 856h9.3M598.7 885.3h17.5M606.9 914.7h9.3M598.7 944h17.5M606.9 973.3h9.3M598.7 1002.7h17.5M606.9 1032h9.3M598.7 1061.3h17.5M606.9 1090.7h9.3M598.7 1120h17.5M606.9 1149.3h9.3M598.7 1178.7h17.5M606.9 1208h9.3M598.7 1237.3h17.5M606.9 1266.7h9.3M598.7 1296h17.5M616.2 1296v17.5M645.5 1296v9.3M674.9 1296v17.5M704.2 1296v9.3M733.5 1296v17.5M762.9 1296v9.3M792.2 1296v17.5M821.5 1296v9.3M850.9 1296v17.5M880.2 1296v9.3M909.5 1296v17.5M938.9 1296v9.3M968.2 1296v17.5" stroke="#000" stroke-width="2.9" fill="none"/>
<text x="585.7" y="779.2" text-anchor="end" class="tk">5</text>
<text x="585.7" y="837.9" text-anchor="end" class="tk">4</text>
<text x="585.7" y="896.5" text-anchor="end" class="tk">3</text>
<text x="585.7" y="955.2" text-anchor="end" class="tk">2</text>
<text x="585.7" y="1013.9" text-anchor="end" class="tk">1</text>
<text x="585.7" y="1072.5" text-anchor="end" class="tk">0</text>
<text x="585.7" y="1131.2" text-anchor="end" class="tk">-1</text>
<text x="585.7" y="1189.9" text-anchor="end" class="tk">-2</text>
<text x="585.7" y="1248.5" text-anchor="end" class="tk">-3</text>
<text x="585.7" y="1307.2" text-anchor="end" class="tk">-4</text>
<text x="615.7" y="1351.3" text-anchor="middle" class="tk">-3</text>
<text x="674.4" y="1351.3" text-anchor="middle" class="tk">-2</text>
<text x="733" y="1351.3" text-anchor="middle" class="tk">-1</text>
<text x="792.2" y="1351.3" text-anchor="middle" class="tk">0</text>
<text x="850.9" y="1351.3" text-anchor="middle" class="tk">1</text>
<text x="909.5" y="1351.3" text-anchor="middle" class="tk">2</text>
<text x="968.2" y="1351.3" text-anchor="middle" class="tk">3</text>
<text x="792.7" y="1394.5" text-anchor="middle" class="al">Position / mm</text>
<text transform="translate(545.2 1009.5) rotate(-90)" text-anchor="middle" class="al">Position / mm</text>
<text x="801.2" y="748" text-anchor="middle" class="tt">0.076 mAh cm<tspan dy="-14" font-size="23.5">−2</tspan></text>
<text x="526.2" y="745" class="pl">e</text>
</g>
<g>
<rect x="1122.3" y="798.2" width="42.1" height="484.4" fill="url(#cb1)" stroke="#000" stroke-width="2.4"/>
<text x="1186.5" y="1293.4" class="cb">0.0</text>
<text x="1186.5" y="1232.8" class="cb">1.9</text>
<text x="1186.5" y="1172.3" class="cb">3.8</text>
<text x="1186.5" y="1111.8" class="cb">5.6</text>
<text x="1186.5" y="1051.2" class="cb">7.5</text>
<text x="1186.5" y="990.6" class="cb">9.4</text>
<text x="1186.5" y="930.1" class="cb">11</text>
<text x="1186.5" y="869.5" class="cb">13</text>
<text x="1186.5" y="809" class="cb">15</text>
<path d="M1164.4 1282.6h9.5M1164.4 1222h9.5M1164.4 1161.5h9.5M1164.4 1101h9.5M1164.4 1040.4h9.5M1164.4 979.9h9.5M1164.4 919.3h9.5M1164.4 858.8h9.5M1164.4 798.2h9.5" stroke="#000" stroke-width="2.5" fill="none"/>
<text x="1118.8" y="1329.1" class="cb" style="font-size:34.5px">μm</text>
<rect x="1283.6" y="798.2" width="41.2" height="484.4" fill="url(#cb2)" stroke="#000" stroke-width="2.4"/>
<text x="1345.5" y="1293.4" class="cb">15</text>
<text x="1345.5" y="1232.8" class="cb">20</text>
<text x="1345.5" y="1172.3" class="cb">25</text>
<text x="1345.5" y="1111.8" class="cb">30</text>
<text x="1345.5" y="1051.2" class="cb">36</text>
<text x="1345.5" y="990.6" class="cb">41</text>
<text x="1345.5" y="930.1" class="cb">46</text>
<text x="1345.5" y="869.5" class="cb">51</text>
<text x="1345.5" y="809" class="cb">56</text>
<path d="M1324.8 1282.6h9.5M1324.8 1222h9.5M1324.8 1161.5h9.5M1324.8 1101h9.5M1324.8 1040.4h9.5M1324.8 979.9h9.5M1324.8 919.3h9.5M1324.8 858.8h9.5M1324.8 798.2h9.5" stroke="#000" stroke-width="2.5" fill="none"/>
<text x="1280.1" y="1329.1" class="cb" style="font-size:34.5px">μm</text>
<text x="1028" y="745" class="pl">f</text>
</g>
<text x="121.5" y="577" class="mul">×10</text>
<text x="630" y="1282.5" class="mul">×5</text>
</g>
</svg>
</body></html>
